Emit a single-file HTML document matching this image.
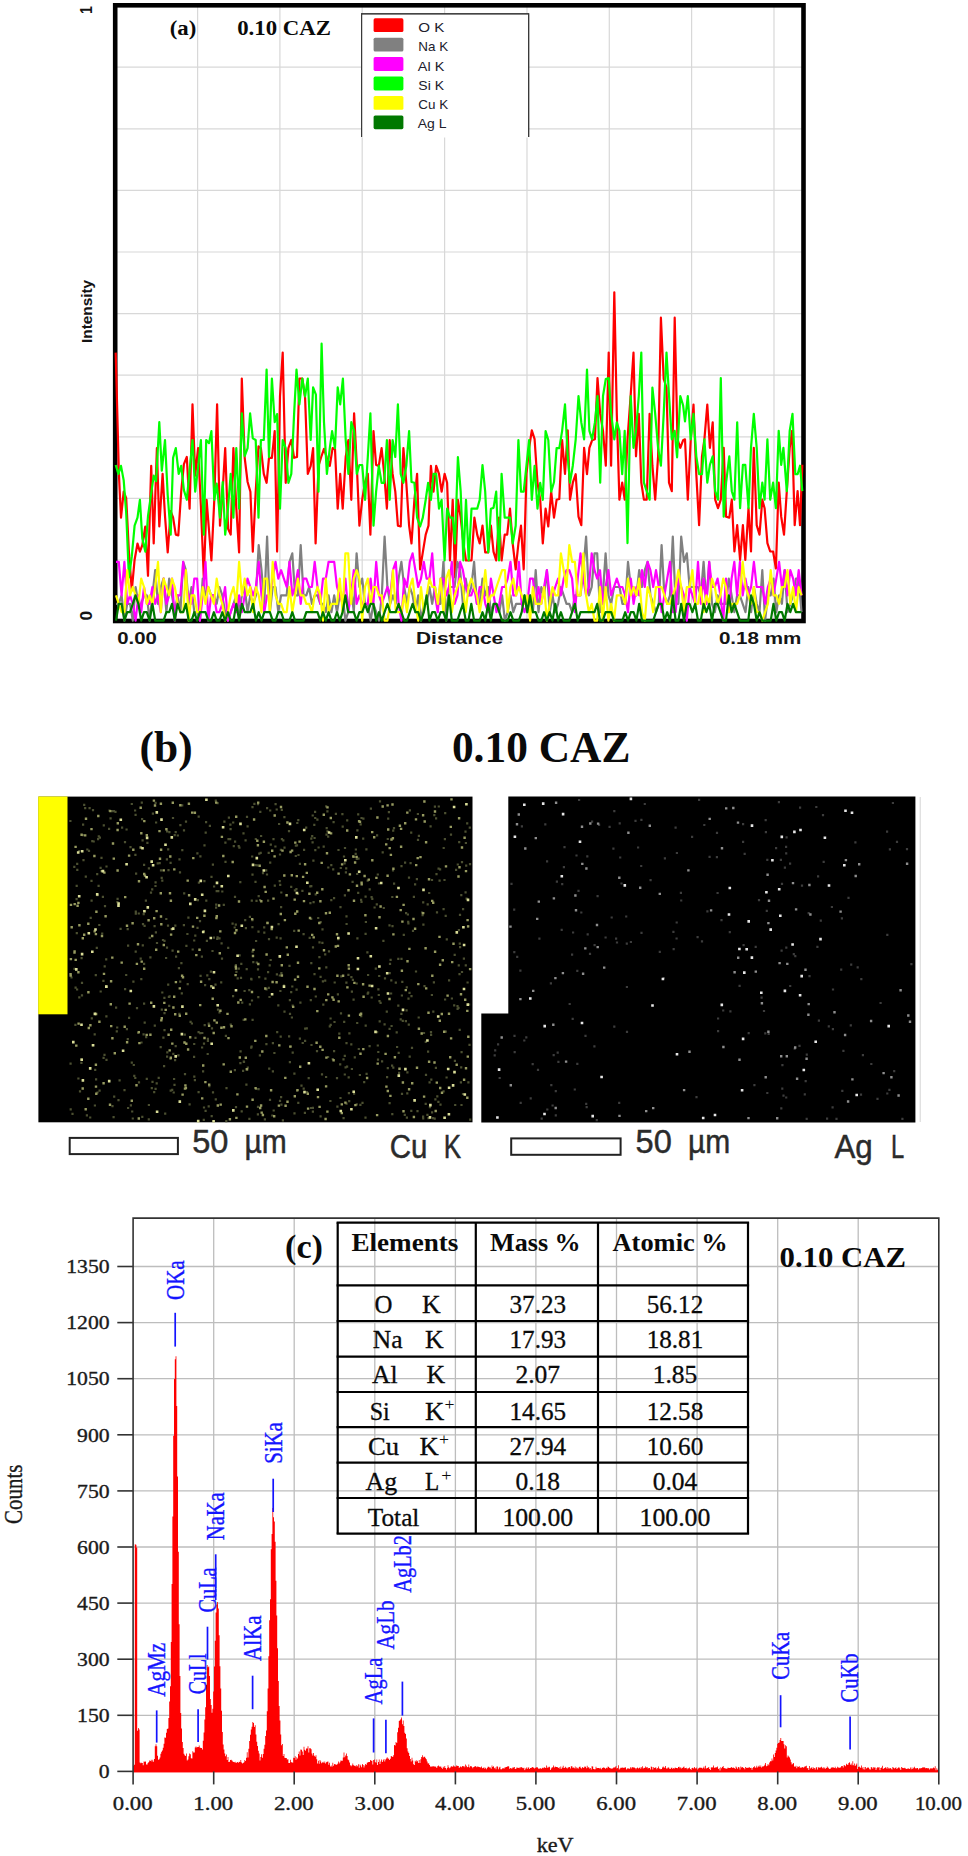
<!DOCTYPE html>
<html lang="en"><head><meta charset="utf-8"><title>0.10 CAZ EDS figure</title>
<style>html,body{margin:0;padding:0;background:#fff}svg{display:block}text{white-space:pre}</style>
</head><body>
<svg width="968" height="1856" viewBox="0 0 968 1856">
<rect width="968" height="1856" fill="#fff"/>
<line x1="197.6" y1="5.3" x2="197.6" y2="621.0" stroke="#d8d8d8" stroke-width="1.2"/>
<line x1="279.9" y1="5.3" x2="279.9" y2="621.0" stroke="#d8d8d8" stroke-width="1.2"/>
<line x1="362.2" y1="5.3" x2="362.2" y2="621.0" stroke="#d8d8d8" stroke-width="1.2"/>
<line x1="444.6" y1="5.3" x2="444.6" y2="621.0" stroke="#d8d8d8" stroke-width="1.2"/>
<line x1="527.0" y1="5.3" x2="527.0" y2="621.0" stroke="#d8d8d8" stroke-width="1.2"/>
<line x1="609.3" y1="5.3" x2="609.3" y2="621.0" stroke="#d8d8d8" stroke-width="1.2"/>
<line x1="691.6" y1="5.3" x2="691.6" y2="621.0" stroke="#d8d8d8" stroke-width="1.2"/>
<line x1="774.0" y1="5.3" x2="774.0" y2="621.0" stroke="#d8d8d8" stroke-width="1.2"/>
<line x1="115.2" y1="67.2" x2="803.5" y2="67.2" stroke="#d8d8d8" stroke-width="1.2"/>
<line x1="115.2" y1="128.8" x2="803.5" y2="128.8" stroke="#d8d8d8" stroke-width="1.2"/>
<line x1="115.2" y1="190.4" x2="803.5" y2="190.4" stroke="#d8d8d8" stroke-width="1.2"/>
<line x1="115.2" y1="252.0" x2="803.5" y2="252.0" stroke="#d8d8d8" stroke-width="1.2"/>
<line x1="115.2" y1="313.6" x2="803.5" y2="313.6" stroke="#d8d8d8" stroke-width="1.2"/>
<line x1="115.2" y1="375.2" x2="803.5" y2="375.2" stroke="#d8d8d8" stroke-width="1.2"/>
<line x1="115.2" y1="436.8" x2="803.5" y2="436.8" stroke="#d8d8d8" stroke-width="1.2"/>
<line x1="115.2" y1="498.4" x2="803.5" y2="498.4" stroke="#d8d8d8" stroke-width="1.2"/>
<line x1="115.2" y1="560.0" x2="803.5" y2="560.0" stroke="#d8d8d8" stroke-width="1.2"/>
<rect x="115.2" y="5.3" width="688.3" height="615.7" fill="none" stroke="#000" stroke-width="4.6"/>
<path d="M115.7,352.6L118.9,473.9L121.0,517.6L123.7,491.7L126.2,498.2L128.9,551.6L131.8,590.4L134.6,559.7L137.5,543.5L139.9,551.6L142.3,545.1L145.3,526.5L148.0,575.8L151.2,465.9L153.7,543.5L156.9,448.1L159.3,526.5L162.6,473.9L165.0,516.0L167.7,552.4L170.7,511.1L173.1,517.6L175.8,534.6L178.3,535.4L181.2,491.7L183.9,464.2L186.8,457.0L189.6,508.7L192.5,404.4L195.2,475.6L198.1,448.1L200.9,506.3L203.8,577.5L206.6,499.8L209.0,530.5L211.4,560.5L214.3,499.8L217.1,404.4L220.0,525.7L222.4,495.0L225.2,448.1L228.1,528.9L230.7,534.6L233.4,448.1L236.3,507.9L239.1,552.4L241.8,378.5L244.7,457.8L247.6,482.0L250.4,491.7L252.8,551.6L255.7,491.7L258.5,446.4L260.9,448.1L263.8,473.9L266.6,482.8L269.0,457.8L271.9,457.8L274.7,431.1L277.1,551.6L280.0,396.3L282.7,352.6L285.7,482.8L288.4,448.1L291.3,440.0L294.1,457.8L297.0,457.0L299.4,378.5L302.3,378.5L305.1,397.9L307.8,473.9L310.7,465.9L313.1,448.1L315.6,543.5L318.5,465.9L321.2,457.0L324.0,448.9L326.9,457.8L329.8,465.9L332.6,448.1L335.0,448.9L337.7,508.7L340.2,473.9L342.7,508.7L345.7,457.0L348.4,440.0L351.3,499.8L354.1,413.3L356.8,465.0L359.4,525.7L362.2,499.8L365.1,482.0L367.8,473.9L370.4,534.6L373.5,431.1L376.1,465.0L378.8,465.9L381.6,448.1L384.2,473.9L386.9,508.7L389.7,440.0L392.6,473.9L395.3,491.7L397.9,525.7L400.7,526.5L403.4,448.1L406.3,482.8L409.1,525.7L411.5,543.5L414.4,499.8L417.1,473.9L420.1,569.4L422.8,552.4L425.7,534.6L428.5,525.7L430.9,465.9L433.5,491.7L436.2,465.9L439.0,473.9L441.6,491.7L444.6,473.9L447.1,482.8L450.0,560.5L452.7,499.8L455.0,577.5L457.9,499.8L460.7,517.6L463.4,543.5L466.0,560.5L468.7,560.5L471.5,560.5L474.4,517.6L477.2,534.6L479.7,543.5L482.5,525.7L485.2,552.4L488.2,552.4L490.9,525.7L493.5,551.6L496.2,560.5L499.0,517.6L501.6,560.5L504.7,534.6L507.2,534.6L510.0,508.7L512.7,543.5L515.7,569.4L518.4,543.5L521.0,525.7L523.7,569.4L526.5,473.9L529.1,448.1L531.8,430.3L534.6,439.2L537.5,482.8L540.2,499.8L542.8,543.5L545.6,508.7L548.3,526.5L551.2,491.7L554.0,517.6L556.6,499.8L559.3,499.0L562.1,440.0L565.0,473.9L567.7,430.3L570.0,499.7L572.8,482.7L575.7,474.2L578.5,516.7L581.3,525.1L584.1,447.8L587.0,474.2L589.4,447.8L592.1,440.3L594.9,439.3L597.5,378.1L600.2,413.9L603.0,430.9L605.8,465.7L608.7,352.6L611.1,465.7L614.3,292.3L616.8,413.9L619.4,499.7L622.2,482.7L624.7,499.7L627.5,439.3L630.7,395.0L633.5,352.6L636.0,456.3L638.8,413.9L641.3,482.7L643.9,499.7L646.7,499.7L649.6,413.9L652.4,465.7L655.2,499.7L658.1,456.3L660.9,317.7L663.7,379.0L666.5,387.5L669.0,482.7L671.8,491.2L674.7,317.7L677.5,439.3L680.3,447.8L683.1,440.3L685.0,439.3L687.8,499.7L690.7,440.3L693.5,404.5L696.3,474.2L699.1,525.1L702.0,456.3L704.4,439.3L707.3,404.5L709.9,447.8L712.7,422.4L715.2,499.7L718.0,508.2L720.8,499.7L723.7,447.8L726.1,516.7L729.3,517.6L731.8,499.7L734.4,551.5L737.2,525.1L740.1,560.0L742.9,525.1L745.3,560.0L748.5,508.2L751.0,551.5L753.8,447.8L756.7,525.1L759.5,534.6L762.3,499.7L764.6,508.2L767.4,543.1L770.2,551.5L773.1,551.5L775.9,568.5L778.7,482.7L781.2,516.7L784.0,534.6L786.8,491.2L789.7,447.8L792.1,430.9L794.7,525.1L797.6,491.2L800.0,525.1L802.3,464.8" fill="none" stroke="#ff0000" stroke-width="2.2" stroke-linejoin="round" stroke-linecap="butt"/>
<path d="M116.0,603.8L118.8,603.8L121.6,595.4L124.4,620.6L127.2,603.8L130.0,603.8L132.8,620.6L135.6,587.0L138.4,603.8L141.2,603.8L144.0,595.4L146.8,595.4L149.6,620.6L152.4,595.4L155.2,570.2L158.0,603.8L160.8,587.0L163.6,578.6L166.4,612.2L169.2,578.6L172.0,595.4L174.8,612.2L177.6,595.4L180.4,612.2L183.2,561.8L185.9,570.2L188.7,603.8L191.5,587.0L194.3,612.2L197.1,612.2L199.9,620.6L202.7,578.6L205.5,595.4L208.3,587.0L211.1,595.4L213.9,595.4L216.7,603.8L219.5,587.0L222.3,595.4L225.1,612.2L227.9,620.6L230.7,612.2L233.5,603.8L236.3,595.4L239.1,612.2L241.9,595.4L244.7,587.0L247.5,612.2L250.3,595.4L253.1,603.8L255.9,595.4L258.7,545.0L261.5,570.2L264.3,603.8L267.1,536.6L269.9,612.2L272.7,587.0L275.5,587.0L278.3,612.2L281.1,595.4L283.9,595.4L286.7,595.4L289.5,561.8L292.3,553.4L295.1,595.4L297.9,595.4L300.7,545.0L303.5,595.4L306.3,595.4L309.1,587.0L311.9,603.8L314.7,595.4L317.5,595.4L320.3,603.8L323.0,603.8L325.8,612.2L328.6,595.4L331.4,612.2L334.2,595.4L337.0,612.2L339.8,595.4L342.6,595.4L345.4,620.6L348.2,612.2L351.0,587.0L353.8,612.2L356.6,553.4L359.4,587.0L362.2,578.6L365.0,603.8L367.8,603.8L370.6,620.6L373.4,603.8L376.2,612.2L379.0,620.6L381.8,595.4L384.6,536.6L387.4,587.0L390.2,603.8L393.0,595.4L395.8,603.8L398.6,578.6L401.4,561.8L404.2,587.0L407.0,603.8L409.8,587.0L412.6,595.4L415.4,612.2L418.2,595.4L421.0,620.6L423.8,603.8L426.6,603.8L429.4,587.0L432.2,603.8L435.0,587.0L437.8,603.8L440.6,603.8L443.4,561.8L446.2,620.6L449.0,587.0L451.8,587.0L454.6,587.0L457.4,561.8L460.1,570.2L462.9,603.8L465.7,578.6L468.5,595.4L471.3,587.0L474.1,561.8L476.9,603.8L479.7,603.8L482.5,578.6L485.3,595.4L488.1,587.0L490.9,612.2L493.7,603.8L496.5,603.8L499.3,612.2L502.1,595.4L504.9,620.6L507.7,612.2L510.5,595.4L513.3,612.2L516.1,603.8L518.9,603.8L521.7,603.8L524.5,595.4L527.3,612.2L530.1,595.4L532.9,612.2L535.7,570.2L538.5,612.2L541.3,587.0L544.1,595.4L546.9,570.2L549.7,612.2L552.5,595.4L555.3,612.2L558.1,603.8L560.9,587.0L563.7,595.4L566.5,603.8L569.3,603.8L572.1,612.2L574.9,595.4L577.7,595.4L580.5,595.4L583.3,570.2L586.1,536.6L588.9,595.4L591.7,587.0L594.5,553.4L597.2,553.4L600.0,612.2L602.8,595.4L605.6,553.4L608.4,595.4L611.2,603.8L614.0,587.0L616.8,587.0L619.6,587.0L622.4,603.8L625.2,603.8L628.0,561.8L630.8,587.0L633.6,587.0L636.4,595.4L639.2,570.2L642.0,587.0L644.8,570.2L647.6,561.8L650.4,595.4L653.2,603.8L656.0,612.2L658.8,603.8L661.6,545.0L664.4,595.4L667.2,603.8L670.0,595.4L672.8,536.6L675.6,603.8L678.4,603.8L681.2,536.6L684.0,561.8L686.8,553.4L689.6,587.0L692.4,587.0L695.2,587.0L698.0,587.0L700.8,595.4L703.6,561.8L706.4,603.8L709.2,561.8L712.0,603.8L714.8,612.2L717.6,595.4L720.4,603.8L723.2,603.8L726.0,603.8L728.8,578.6L731.6,595.4L734.3,612.2L737.1,595.4L739.9,595.4L742.7,603.8L745.5,612.2L748.3,587.0L751.1,612.2L753.9,587.0L756.7,603.8L759.5,612.2L762.3,570.2L765.1,620.6L767.9,595.4L770.7,595.4L773.5,578.6L776.3,612.2L779.1,595.4L781.9,603.8L784.7,570.2L787.5,612.2L790.3,603.8L793.1,595.4L795.9,578.6L798.7,578.6L801.5,612.2" fill="none" stroke="#808080" stroke-width="2.2" stroke-linejoin="round" stroke-linecap="butt"/>
<path d="M116.0,561.8L118.8,561.8L121.6,595.4L124.4,561.8L127.2,603.8L130.0,595.4L132.8,603.8L135.6,620.6L138.4,595.4L141.2,612.2L144.0,587.0L146.8,603.8L149.6,603.8L152.4,587.0L155.2,603.8L158.0,595.4L160.8,612.2L163.6,578.6L166.4,603.8L169.2,595.4L172.0,578.6L174.8,620.6L177.6,595.4L180.4,595.4L183.2,561.8L185.9,587.0L188.7,595.4L191.5,603.8L194.3,578.6L197.1,578.6L199.9,620.6L202.7,595.4L205.5,561.8L208.3,620.6L211.1,595.4L213.9,595.4L216.7,612.2L219.5,612.2L222.3,603.8L225.1,587.0L227.9,620.6L230.7,612.2L233.5,603.8L236.3,612.2L239.1,595.4L241.9,612.2L244.7,595.4L247.5,578.6L250.3,587.0L253.1,595.4L255.9,587.0L258.7,561.8L261.5,595.4L264.3,612.2L267.1,595.4L269.9,595.4L272.7,578.6L275.5,561.8L278.3,578.6L281.1,570.2L283.9,578.6L286.7,587.0L289.5,561.8L292.3,595.4L295.1,587.0L297.9,570.2L300.7,603.8L303.5,578.6L306.3,578.6L309.1,587.0L311.9,587.0L314.7,561.8L317.5,587.0L320.3,603.8L323.0,578.6L325.8,578.6L328.6,561.8L331.4,561.8L334.2,561.8L337.0,587.0L339.8,595.4L342.6,603.8L345.4,578.6L348.2,612.2L351.0,595.4L353.8,570.2L356.6,603.8L359.4,595.4L362.2,603.8L365.0,603.8L367.8,603.8L370.6,578.6L373.4,603.8L376.2,561.8L379.0,595.4L381.8,603.8L384.6,595.4L387.4,587.0L390.2,595.4L393.0,570.2L395.8,561.8L398.6,603.8L401.4,620.6L404.2,578.6L407.0,587.0L409.8,561.8L412.6,553.4L415.4,570.2L418.2,587.0L421.0,578.6L423.8,561.8L426.6,578.6L429.4,578.6L432.2,553.4L435.0,595.4L437.8,612.2L440.6,578.6L443.4,578.6L446.2,595.4L449.0,587.0L451.8,561.8L454.6,603.8L457.4,595.4L460.1,561.8L462.9,570.2L465.7,587.0L468.5,595.4L471.3,595.4L474.1,587.0L476.9,603.8L479.7,587.0L482.5,587.0L485.3,603.8L488.1,612.2L490.9,578.6L493.7,595.4L496.5,612.2L499.3,603.8L502.1,587.0L504.9,587.0L507.7,578.6L510.5,561.8L513.3,595.4L516.1,595.4L518.9,561.8L521.7,603.8L524.5,612.2L527.3,603.8L530.1,578.6L532.9,578.6L535.7,603.8L538.5,587.0L541.3,603.8L544.1,587.0L546.9,570.2L549.7,595.4L552.5,595.4L555.3,587.0L558.1,578.6L560.9,595.4L563.7,578.6L566.5,570.2L569.3,570.2L572.1,578.6L574.9,612.2L577.7,578.6L580.5,553.4L583.3,578.6L586.1,595.4L588.9,587.0L591.7,553.4L594.5,570.2L597.2,578.6L600.0,570.2L602.8,603.8L605.6,587.0L608.4,570.2L611.2,595.4L614.0,587.0L616.8,578.6L619.6,587.0L622.4,587.0L625.2,595.4L628.0,612.2L630.8,578.6L633.6,603.8L636.4,587.0L639.2,595.4L642.0,570.2L644.8,587.0L647.6,561.8L650.4,570.2L653.2,587.0L656.0,570.2L658.8,587.0L661.6,612.2L664.4,595.4L667.2,578.6L670.0,561.8L672.8,612.2L675.6,612.2L678.4,578.6L681.2,587.0L684.0,595.4L686.8,620.6L689.6,587.0L692.4,595.4L695.2,603.8L698.0,561.8L700.8,603.8L703.6,578.6L706.4,603.8L709.2,561.8L712.0,587.0L714.8,587.0L717.6,578.6L720.4,595.4L723.2,620.6L726.0,578.6L728.8,612.2L731.6,578.6L734.3,561.8L737.1,595.4L739.9,561.8L742.7,595.4L745.5,578.6L748.3,595.4L751.1,587.0L753.9,561.8L756.7,587.0L759.5,587.0L762.3,587.0L765.1,603.8L767.9,587.0L770.7,578.6L773.5,595.4L776.3,578.6L779.1,561.8L781.9,587.0L784.7,570.2L787.5,595.4L790.3,570.2L793.1,578.6L795.9,595.4L798.7,570.2L801.5,595.4" fill="none" stroke="#ff00ff" stroke-width="2.2" stroke-linejoin="round" stroke-linecap="butt"/>
<path d="M115.7,465.0L118.4,473.9L121.0,465.9L123.7,480.4L126.2,512.8L128.9,577.5L131.8,556.4L134.6,525.7L137.5,517.6L139.9,499.8L142.3,538.6L145.3,551.6L148.0,516.0L151.2,493.4L153.7,475.6L156.1,481.2L159.3,422.2L161.8,470.7L165.0,440.0L167.7,495.0L170.7,534.6L173.1,457.8L175.8,448.1L178.7,473.9L181.2,465.9L183.9,490.1L186.8,499.8L189.6,470.7L192.5,440.0L195.2,491.7L198.1,467.5L200.9,440.0L203.8,534.6L206.2,440.0L209.0,443.2L211.4,431.1L214.3,499.8L216.7,483.6L220.0,517.6L222.7,482.0L225.2,534.6L227.9,509.5L230.7,473.9L233.4,517.6L236.3,448.1L239.1,508.7L241.8,413.3L244.7,456.2L247.6,448.1L250.1,413.3L252.8,438.4L255.7,440.0L258.5,517.6L260.9,440.0L263.8,440.0L266.6,369.6L269.0,457.0L271.9,378.5L274.7,422.2L277.1,414.1L280.0,508.7L282.7,440.0L285.7,448.1L288.4,482.8L291.3,473.9L294.1,414.1L296.5,369.6L299.4,404.4L302.3,378.5L305.1,396.3L307.8,378.5L310.7,440.0L313.1,387.4L315.9,394.7L318.5,491.7L321.6,343.7L324.0,422.2L326.9,473.9L329.8,448.1L332.1,431.1L335.0,448.1L337.7,387.4L340.2,404.4L342.9,378.5L345.7,440.0L348.4,473.9L351.3,422.2L354.1,431.1L356.8,473.9L359.4,465.0L362.2,465.0L365.1,499.8L367.8,457.0L370.4,413.3L373.5,525.7L376.1,491.7L378.8,465.9L381.6,482.8L384.2,482.8L386.9,440.0L389.7,499.8L392.6,440.0L395.3,457.0L397.9,404.4L400.7,473.9L403.4,482.8L406.3,465.9L409.1,431.1L411.5,482.0L414.4,482.8L417.1,517.6L420.1,526.5L422.8,517.6L425.7,499.8L428.1,482.8L430.9,499.8L433.5,473.9L436.2,473.9L439.0,508.7L441.6,499.8L444.6,560.5L447.1,508.7L450.0,517.6L452.7,517.6L455.0,543.5L457.9,457.0L460.7,491.7L463.4,560.5L466.0,499.8L468.7,560.5L471.5,508.7L474.4,508.7L477.2,508.7L479.7,499.8L482.5,465.0L485.2,491.7L488.2,552.4L490.9,508.7L493.5,507.9L496.2,491.7L499.0,560.5L501.6,473.9L504.7,517.6L507.2,517.6L510.0,517.6L512.7,543.5L515.7,525.7L518.4,440.0L521.0,491.7L523.7,491.7L526.5,465.0L529.1,440.0L531.8,499.8L534.6,465.9L537.5,508.7L540.2,482.8L542.8,499.8L545.6,431.1L548.3,440.0L551.2,491.7L554.0,482.0L556.6,448.1L559.3,448.1L562.1,431.1L565.0,404.4L567.7,456.2L570.0,482.7L572.8,465.7L575.7,439.3L578.5,396.0L581.3,422.4L584.1,439.3L587.0,369.6L589.4,430.9L592.1,439.3L594.9,422.4L597.5,396.0L600.2,482.7L603.0,396.0L605.8,379.0L608.7,378.1L611.1,412.9L614.3,439.3L616.8,422.4L619.4,430.9L622.2,474.2L624.7,430.9L627.5,543.1L630.7,396.0L633.5,447.8L636.0,430.9L638.8,396.0L641.3,352.6L643.9,482.7L646.7,491.2L649.6,499.7L652.4,387.5L655.2,413.9L658.1,447.8L660.9,465.7L663.7,413.9L666.5,352.6L669.0,395.0L671.8,439.3L674.7,430.9L677.1,457.3L680.3,396.0L683.1,405.4L685.0,421.4L687.8,396.0L690.7,439.3L693.5,413.9L696.3,456.3L699.1,474.2L702.0,474.2L704.4,439.3L707.3,482.7L709.9,464.8L712.7,456.3L715.2,491.2L718.0,499.7L720.8,378.1L723.7,516.7L726.1,482.7L729.3,456.3L731.8,491.2L734.4,499.7L737.2,422.4L740.1,508.2L742.9,464.8L745.3,464.8L748.5,508.2L751.0,447.8L753.8,413.9L756.7,447.8L759.5,508.2L762.3,482.7L764.6,499.7L767.4,439.3L770.2,499.7L773.1,482.7L775.9,508.2L778.7,430.9L781.2,464.8L783.4,447.8L786.8,491.2L789.7,430.9L792.5,413.9L795.3,474.2L797.6,474.2L800.0,465.7L802.3,491.2" fill="none" stroke="#00ff00" stroke-width="2.2" stroke-linejoin="round" stroke-linecap="butt"/>
<path d="M116.0,595.4L118.8,603.8L121.6,612.2L124.4,612.2L127.2,570.2L130.0,595.4L132.8,587.0L135.6,595.4L138.4,603.8L141.2,578.6L144.0,587.0L146.8,603.8L149.6,595.4L152.4,603.8L155.2,587.0L158.0,561.8L160.8,612.2L163.6,578.6L166.4,587.0L169.2,595.4L172.0,578.6L174.8,587.0L177.6,603.8L180.4,612.2L183.2,612.2L185.9,570.2L188.7,620.6L191.5,595.4L194.3,595.4L197.1,612.2L199.9,612.2L202.7,587.0L205.5,603.8L208.3,587.0L211.1,595.4L213.9,603.8L216.7,578.6L219.5,595.4L222.3,603.8L225.1,620.6L227.9,612.2L230.7,595.4L233.5,587.0L236.3,603.8L239.1,561.8L241.9,595.4L244.7,578.6L247.5,595.4L250.3,587.0L253.1,612.2L255.9,587.0L258.7,595.4L261.5,612.2L264.3,578.6L267.1,578.6L269.9,612.2L272.7,561.8L275.5,595.4L278.3,603.8L281.1,603.8L283.9,612.2L286.7,612.2L289.5,587.0L292.3,612.2L295.1,595.4L297.9,578.6L300.7,595.4L303.5,595.4L306.3,603.8L309.1,603.8L311.9,612.2L314.7,595.4L317.5,587.0L320.3,595.4L323.0,620.6L325.8,578.6L328.6,612.2L331.4,603.8L334.2,603.8L337.0,603.8L339.8,578.6L342.6,612.2L345.4,553.4L348.2,553.4L351.0,603.8L353.8,578.6L356.6,570.2L359.4,578.6L362.2,620.6L365.0,587.0L367.8,578.6L370.6,603.8L373.4,587.0L376.2,587.0L379.0,595.4L381.8,595.4L384.6,620.6L387.4,620.6L390.2,603.8L393.0,570.2L395.8,612.2L398.6,612.2L401.4,612.2L404.2,595.4L407.0,612.2L409.8,587.0L412.6,578.6L415.4,603.8L418.2,620.6L421.0,587.0L423.8,612.2L426.6,595.4L429.4,578.6L432.2,587.0L435.0,587.0L437.8,603.8L440.6,578.6L443.4,612.2L446.2,578.6L449.0,570.2L451.8,612.2L454.6,595.4L457.4,587.0L460.1,578.6L462.9,587.0L465.7,612.2L468.5,587.0L471.3,578.6L474.1,587.0L476.9,595.4L479.7,612.2L482.5,595.4L485.3,570.2L488.1,603.8L490.9,595.4L493.7,595.4L496.5,587.0L499.3,578.6L502.1,570.2L504.9,570.2L507.7,612.2L510.5,587.0L513.3,578.6L516.1,595.4L518.9,587.0L521.7,595.4L524.5,603.8L527.3,595.4L530.1,620.6L532.9,587.0L535.7,603.8L538.5,603.8L541.3,603.8L544.1,587.0L546.9,620.6L549.7,603.8L552.5,587.0L555.3,595.4L558.1,595.4L560.9,553.4L563.7,570.2L566.5,587.0L569.3,545.0L572.1,561.8L574.9,561.8L577.7,595.4L580.5,595.4L583.3,553.4L586.1,595.4L588.9,612.2L591.7,603.8L594.5,620.6L597.2,620.6L600.0,587.0L602.8,620.6L605.6,587.0L608.4,620.6L611.2,603.8L614.0,620.6L616.8,595.4L619.6,595.4L622.4,595.4L625.2,603.8L628.0,578.6L630.8,595.4L633.6,587.0L636.4,595.4L639.2,578.6L642.0,612.2L644.8,620.6L647.6,587.0L650.4,595.4L653.2,612.2L656.0,587.0L658.8,587.0L661.6,587.0L664.4,595.4L667.2,603.8L670.0,603.8L672.8,595.4L675.6,587.0L678.4,570.2L681.2,587.0L684.0,612.2L686.8,587.0L689.6,587.0L692.4,570.2L695.2,603.8L698.0,603.8L700.8,587.0L703.6,612.2L706.4,595.4L709.2,603.8L712.0,578.6L714.8,587.0L717.6,603.8L720.4,595.4L723.2,578.6L726.0,587.0L728.8,612.2L731.6,603.8L734.3,603.8L737.1,603.8L739.9,595.4L742.7,561.8L745.5,587.0L748.3,595.4L751.1,603.8L753.9,587.0L756.7,612.2L759.5,612.2L762.3,620.6L765.1,612.2L767.9,603.8L770.7,570.2L773.5,595.4L776.3,595.4L779.1,603.8L781.9,587.0L784.7,587.0L787.5,570.2L790.3,603.8L793.1,587.0L795.9,612.2L798.7,587.0L801.5,595.4" fill="none" stroke="#ffff00" stroke-width="2.2" stroke-linejoin="round" stroke-linecap="butt"/>
<path d="M116.0,620.6L118.8,603.8L121.6,603.8L124.4,620.6L127.2,612.2L130.0,612.2L132.8,603.8L135.6,595.4L138.4,603.8L141.2,620.6L144.0,612.2L146.8,612.2L149.6,620.6L152.4,603.8L155.2,620.6L158.0,620.6L160.8,620.6L163.6,620.6L166.4,612.2L169.2,612.2L172.0,603.8L174.8,620.6L177.6,603.8L180.4,612.2L183.2,612.2L185.9,603.8L188.7,620.6L191.5,620.6L194.3,612.2L197.1,620.6L199.9,612.2L202.7,612.2L205.5,612.2L208.3,620.6L211.1,620.6L213.9,612.2L216.7,620.6L219.5,620.6L222.3,612.2L225.1,620.6L227.9,612.2L230.7,620.6L233.5,620.6L236.3,603.8L239.1,620.6L241.9,603.8L244.7,612.2L247.5,612.2L250.3,612.2L253.1,603.8L255.9,620.6L258.7,612.2L261.5,620.6L264.3,612.2L267.1,612.2L269.9,612.2L272.7,620.6L275.5,620.6L278.3,612.2L281.1,612.2L283.9,620.6L286.7,620.6L289.5,620.6L292.3,612.2L295.1,620.6L297.9,620.6L300.7,620.6L303.5,620.6L306.3,612.2L309.1,612.2L311.9,612.2L314.7,612.2L317.5,612.2L320.3,620.6L323.0,612.2L325.8,620.6L328.6,612.2L331.4,620.6L334.2,620.6L337.0,612.2L339.8,620.6L342.6,612.2L345.4,595.4L348.2,612.2L351.0,612.2L353.8,612.2L356.6,620.6L359.4,612.2L362.2,612.2L365.0,603.8L367.8,612.2L370.6,603.8L373.4,603.8L376.2,620.6L379.0,612.2L381.8,620.6L384.6,612.2L387.4,603.8L390.2,612.2L393.0,612.2L395.8,612.2L398.6,603.8L401.4,612.2L404.2,620.6L407.0,620.6L409.8,612.2L412.6,603.8L415.4,612.2L418.2,612.2L421.0,620.6L423.8,612.2L426.6,595.4L429.4,620.6L432.2,612.2L435.0,612.2L437.8,620.6L440.6,612.2L443.4,612.2L446.2,620.6L449.0,595.4L451.8,620.6L454.6,620.6L457.4,620.6L460.1,612.2L462.9,603.8L465.7,620.6L468.5,620.6L471.3,603.8L474.1,620.6L476.9,620.6L479.7,620.6L482.5,612.2L485.3,620.6L488.1,603.8L490.9,620.6L493.7,603.8L496.5,603.8L499.3,612.2L502.1,620.6L504.9,620.6L507.7,620.6L510.5,612.2L513.3,620.6L516.1,620.6L518.9,620.6L521.7,612.2L524.5,595.4L527.3,612.2L530.1,595.4L532.9,612.2L535.7,612.2L538.5,620.6L541.3,620.6L544.1,612.2L546.9,620.6L549.7,612.2L552.5,620.6L555.3,603.8L558.1,620.6L560.9,612.2L563.7,620.6L566.5,620.6L569.3,620.6L572.1,612.2L574.9,603.8L577.7,620.6L580.5,612.2L583.3,612.2L586.1,612.2L588.9,612.2L591.7,612.2L594.5,612.2L597.2,603.8L600.0,620.6L602.8,620.6L605.6,612.2L608.4,612.2L611.2,612.2L614.0,620.6L616.8,620.6L619.6,620.6L622.4,620.6L625.2,612.2L628.0,620.6L630.8,612.2L633.6,612.2L636.4,620.6L639.2,603.8L642.0,620.6L644.8,620.6L647.6,620.6L650.4,620.6L653.2,620.6L656.0,612.2L658.8,603.8L661.6,603.8L664.4,620.6L667.2,612.2L670.0,620.6L672.8,595.4L675.6,620.6L678.4,620.6L681.2,603.8L684.0,620.6L686.8,603.8L689.6,603.8L692.4,612.2L695.2,603.8L698.0,620.6L700.8,620.6L703.6,603.8L706.4,612.2L709.2,603.8L712.0,620.6L714.8,603.8L717.6,603.8L720.4,612.2L723.2,620.6L726.0,620.6L728.8,595.4L731.6,612.2L734.3,603.8L737.1,612.2L739.9,620.6L742.7,620.6L745.5,620.6L748.3,620.6L751.1,595.4L753.9,603.8L756.7,620.6L759.5,612.2L762.3,620.6L765.1,620.6L767.9,620.6L770.7,620.6L773.5,603.8L776.3,620.6L779.1,612.2L781.9,612.2L784.7,620.6L787.5,603.8L790.3,612.2L793.1,603.8L795.9,612.2L798.7,612.2L801.5,612.2" fill="none" stroke="#007800" stroke-width="2.2" stroke-linejoin="round" stroke-linecap="butt"/>
<path d="M361.6,137V13.9H528.6V137" fill="#fff" stroke="#3a3a3a" stroke-width="1.2"/>
<rect x="362.2" y="14.5" width="165.8" height="123" fill="#fff"/>
<path d="M361.6,137V13.9H528.6V137" fill="none" stroke="#3a3a3a" stroke-width="1.2"/>
<rect x="373.6" y="18.3" width="29.8" height="13.8" rx="1.6" fill="#ff0000"/>
<text transform="translate(418.30,31.70) scale(1.1506,1.0000)" font-family='"Liberation Sans", sans-serif' font-size="13.2" font-weight="normal" fill="#20202c" >O K</text>
<rect x="373.6" y="37.7" width="29.8" height="13.8" rx="1.6" fill="#808080"/>
<text transform="translate(418.30,51.30) scale(1.0180,1.0000)" font-family='"Liberation Sans", sans-serif' font-size="13.2" font-weight="normal" fill="#20202c" >Na K</text>
<rect x="373.6" y="57.1" width="29.8" height="13.8" rx="1.6" fill="#ff00ff"/>
<text transform="translate(417.80,70.50) scale(1.0940,1.0000)" font-family='"Liberation Sans", sans-serif' font-size="13.2" font-weight="normal" fill="#20202c" >Al K</text>
<rect x="373.6" y="76.6" width="29.8" height="13.8" rx="1.6" fill="#00ff00"/>
<text transform="translate(418.30,89.60) scale(1.0610,1.0000)" font-family='"Liberation Sans", sans-serif' font-size="13.2" font-weight="normal" fill="#20202c" >Si K</text>
<rect x="373.6" y="96.0" width="29.8" height="13.8" rx="1.6" fill="#ffff00"/>
<text transform="translate(418.30,108.80) scale(1.0180,1.0000)" font-family='"Liberation Sans", sans-serif' font-size="13.2" font-weight="normal" fill="#20202c" >Cu K</text>
<rect x="373.6" y="115.4" width="29.8" height="13.8" rx="1.6" fill="#007800"/>
<text transform="translate(417.80,128.20) scale(1.0580,1.0000)" font-family='"Liberation Sans", sans-serif' font-size="13.2" font-weight="normal" fill="#20202c" >Ag L</text>
<text transform="translate(169.70,35.10) scale(1.0378,1.0000)" font-family='"Liberation Serif", serif' font-size="22" font-weight="bold" fill="#0a0a0a" >(a)</text>
<text transform="translate(237.20,35.10) scale(1.0385,1.0000)" font-family='"Liberation Serif", serif' font-size="22" font-weight="bold" fill="#0a0a0a" >0.10 CAZ</text>
<text transform="translate(117.20,644.20) scale(1.2415,1.0000)" font-family='"Liberation Sans", sans-serif' font-size="16.4" font-weight="bold" fill="#141414" >0.00</text>
<text transform="translate(416.00,644.20) scale(1.2765,1.0000)" font-family='"Liberation Sans", sans-serif' font-size="16.4" font-weight="bold" fill="#141414" >Distance</text>
<text transform="translate(718.90,644.20) scale(1.2561,1.0000)" font-family='"Liberation Sans", sans-serif' font-size="16.4" font-weight="bold" fill="#141414" >0.18 mm</text>
<text transform="translate(91.80,343.00) rotate(-90) scale(1.0251,1.0000)" font-family='"Liberation Sans", sans-serif' font-size="15" font-weight="bold" fill="#141414">Intensity</text>
<text transform="translate(92.30,620.50) rotate(-90) scale(1.1380,1.0500)" font-family='"Liberation Sans", sans-serif' font-size="15.2" font-weight="bold" fill="#141414">0</text>
<text transform="translate(91.80,13.90) rotate(-90) scale(0.9246,1.0500)" font-family='"Liberation Sans", sans-serif' font-size="15.2" font-weight="bold" fill="#141414">1</text>
<text transform="translate(139.50,762.40) scale(0.9987,1.0000)" font-family='"Liberation Serif", serif' font-size="43.5" font-weight="bold" fill="#0a0a0a" >(b)</text>
<text transform="translate(451.90,762.40) scale(0.9984,1.0000)" font-family='"Liberation Serif", serif' font-size="43.5" font-weight="bold" fill="#0a0a0a" >0.10 CAZ</text>
<rect x="38.4" y="796.6" width="434.1" height="325.7" fill="#000"/>
<rect x="38.2" y="796.5" width="29.3" height="217.8" fill="#ffff00"/>
<path d="M508.3,796.6H915.4V1122.4H481.3V1013.6H508.3Z" fill="#000"/>
<line x1="920.2" y1="797" x2="920.2" y2="1122" stroke="#d4d4d4" stroke-width="1"/>
<defs><filter id="sb" x="-5%" y="-5%" width="110%" height="110%"><feGaussianBlur stdDeviation="0.45"/></filter></defs>
<g filter="url(#sb)">
<path d="M250.4,978.2h2.2v2.2h-2.2zM255.7,961.5h2.2v2.2h-2.2zM143.0,962.8h2.2v2.2h-2.2zM105.4,1058.7h2.2v2.2h-2.2zM85.8,1114.3h2.2v2.2h-2.2zM255.0,939.9h2.2v2.2h-2.2zM277.2,1004.2h2.2v2.2h-2.2zM469.1,1118.6h2.2v2.2h-2.2zM184.9,820.6h2.2v2.2h-2.2zM153.1,1091.1h2.2v2.2h-2.2zM103.9,905.1h2.2v2.2h-2.2zM109.5,817.3h2.2v2.2h-2.2zM140.2,978.1h2.2v2.2h-2.2zM327.1,835.5h2.2v2.2h-2.2zM154.4,884.9h2.2v2.2h-2.2zM391.2,895.9h2.2v2.2h-2.2zM153.5,925.0h2.2v2.2h-2.2zM326.4,830.3h2.2v2.2h-2.2zM154.5,881.2h2.2v2.2h-2.2zM310.1,917.7h2.2v2.2h-2.2zM453.6,953.8h2.2v2.2h-2.2zM145.1,1036.1h2.2v2.2h-2.2zM147.8,1103.9h2.2v2.2h-2.2zM351.5,880.7h2.2v2.2h-2.2zM293.3,1072.5h2.2v2.2h-2.2zM75.6,884.7h2.2v2.2h-2.2zM426.3,1113.7h2.2v2.2h-2.2zM83.1,803.8h2.2v2.2h-2.2zM324.1,953.3h2.2v2.2h-2.2zM288.0,1035.3h2.2v2.2h-2.2zM364.6,1024.6h2.2v2.2h-2.2zM435.9,911.3h2.2v2.2h-2.2zM430.2,1078.5h2.2v2.2h-2.2zM386.0,1076.0h2.2v2.2h-2.2zM319.6,921.1h2.2v2.2h-2.2zM313.2,823.8h2.2v2.2h-2.2zM467.3,1081.3h2.2v2.2h-2.2zM224.8,1034.7h2.2v2.2h-2.2zM369.8,807.6h2.2v2.2h-2.2zM261.9,872.1h2.2v2.2h-2.2zM268.4,995.9h2.2v2.2h-2.2zM432.2,1010.5h2.2v2.2h-2.2zM426.6,903.3h2.2v2.2h-2.2zM148.6,936.7h2.2v2.2h-2.2zM268.1,1067.5h2.2v2.2h-2.2zM154.8,931.3h2.2v2.2h-2.2zM267.0,899.5h2.2v2.2h-2.2zM251.4,806.0h2.2v2.2h-2.2zM321.3,941.8h2.2v2.2h-2.2zM331.7,1058.0h2.2v2.2h-2.2zM343.5,862.2h2.2v2.2h-2.2zM140.7,801.5h2.2v2.2h-2.2zM207.6,1022.5h2.2v2.2h-2.2zM250.9,999.4h2.2v2.2h-2.2zM220.1,981.2h2.2v2.2h-2.2zM388.5,1102.1h2.2v2.2h-2.2zM330.2,864.0h2.2v2.2h-2.2zM397.2,1004.6h2.2v2.2h-2.2zM154.5,1087.8h2.2v2.2h-2.2zM460.9,970.9h2.2v2.2h-2.2zM197.5,1091.0h2.2v2.2h-2.2zM208.8,824.7h2.2v2.2h-2.2zM289.7,1045.4h2.2v2.2h-2.2zM276.1,1031.0h2.2v2.2h-2.2zM345.4,1102.5h2.2v2.2h-2.2zM280.2,891.4h2.2v2.2h-2.2zM325.2,966.3h2.2v2.2h-2.2zM410.2,1109.8h2.2v2.2h-2.2zM298.8,862.7h2.2v2.2h-2.2zM457.7,964.2h2.2v2.2h-2.2zM390.2,979.2h2.2v2.2h-2.2zM346.1,819.2h2.2v2.2h-2.2zM234.9,1106.1h2.2v2.2h-2.2zM242.9,1060.7h2.2v2.2h-2.2zM362.1,837.5h2.2v2.2h-2.2zM169.5,861.7h2.2v2.2h-2.2zM244.1,919.0h2.2v2.2h-2.2zM322.2,1003.6h2.2v2.2h-2.2zM410.4,995.0h2.2v2.2h-2.2zM162.3,1036.5h2.2v2.2h-2.2zM439.0,868.2h2.2v2.2h-2.2zM402.7,933.8h2.2v2.2h-2.2zM119.5,927.7h2.2v2.2h-2.2zM76.1,862.7h2.2v2.2h-2.2zM271.8,1042.1h2.2v2.2h-2.2zM111.6,810.1h2.2v2.2h-2.2zM143.0,863.7h2.2v2.2h-2.2zM93.8,1104.4h2.2v2.2h-2.2zM375.7,903.2h2.2v2.2h-2.2zM275.6,936.5h2.2v2.2h-2.2zM74.3,1023.7h2.2v2.2h-2.2zM141.7,944.2h2.2v2.2h-2.2zM274.5,803.0h2.2v2.2h-2.2zM390.5,1024.9h2.2v2.2h-2.2zM321.4,928.3h2.2v2.2h-2.2zM271.2,1114.4h2.2v2.2h-2.2zM172.6,1091.4h2.2v2.2h-2.2zM381.0,1060.3h2.2v2.2h-2.2zM428.5,1081.3h2.2v2.2h-2.2zM376.7,1044.4h2.2v2.2h-2.2zM333.6,981.4h2.2v2.2h-2.2zM225.2,1120.0h2.2v2.2h-2.2zM350.2,1043.3h2.2v2.2h-2.2zM78.2,996.2h2.2v2.2h-2.2zM169.6,1089.6h2.2v2.2h-2.2zM272.6,1109.4h2.2v2.2h-2.2zM468.0,1003.4h2.2v2.2h-2.2zM99.6,990.4h2.2v2.2h-2.2zM258.2,852.5h2.2v2.2h-2.2zM314.1,816.9h2.2v2.2h-2.2zM237.7,967.6h2.2v2.2h-2.2zM215.6,890.0h2.2v2.2h-2.2zM293.8,889.3h2.2v2.2h-2.2zM86.2,848.4h2.2v2.2h-2.2zM225.4,1087.0h2.2v2.2h-2.2zM89.1,1116.4h2.2v2.2h-2.2zM98.5,1089.6h2.2v2.2h-2.2zM278.9,1099.8h2.2v2.2h-2.2zM256.8,1113.2h2.2v2.2h-2.2zM311.1,835.1h2.2v2.2h-2.2zM280.8,838.0h2.2v2.2h-2.2zM302.5,933.1h2.2v2.2h-2.2zM281.8,1119.2h2.2v2.2h-2.2zM427.0,1050.5h2.2v2.2h-2.2zM213.0,885.4h2.2v2.2h-2.2zM295.5,988.5h2.2v2.2h-2.2zM461.9,1092.9h2.2v2.2h-2.2zM340.2,975.3h2.2v2.2h-2.2zM206.8,1037.8h2.2v2.2h-2.2zM98.8,836.6h2.2v2.2h-2.2zM239.2,881.1h2.2v2.2h-2.2zM216.9,1008.5h2.2v2.2h-2.2zM199.5,974.7h2.2v2.2h-2.2zM102.3,979.7h2.2v2.2h-2.2zM343.8,894.2h2.2v2.2h-2.2zM99.5,866.7h2.2v2.2h-2.2zM101.8,895.8h2.2v2.2h-2.2zM116.1,1026.4h2.2v2.2h-2.2zM437.3,1100.7h2.2v2.2h-2.2zM196.4,926.7h2.2v2.2h-2.2zM224.4,860.8h2.2v2.2h-2.2zM388.6,972.1h2.2v2.2h-2.2zM294.7,854.9h2.2v2.2h-2.2zM275.8,973.2h2.2v2.2h-2.2zM456.5,1007.7h2.2v2.2h-2.2zM94.7,974.1h2.2v2.2h-2.2zM102.7,824.3h2.2v2.2h-2.2zM429.5,825.3h2.2v2.2h-2.2zM126.7,1038.1h2.2v2.2h-2.2zM167.4,869.0h2.2v2.2h-2.2zM204.5,1109.8h2.2v2.2h-2.2zM267.0,971.0h2.2v2.2h-2.2zM353.0,1092.6h2.2v2.2h-2.2zM400.3,1012.7h2.2v2.2h-2.2zM392.2,1066.5h2.2v2.2h-2.2zM453.1,1004.2h2.2v2.2h-2.2zM353.7,1056.3h2.2v2.2h-2.2zM237.6,845.1h2.2v2.2h-2.2zM115.0,1006.6h2.2v2.2h-2.2zM141.0,818.1h2.2v2.2h-2.2zM163.4,1029.0h2.2v2.2h-2.2zM288.8,1061.1h2.2v2.2h-2.2zM173.4,1083.7h2.2v2.2h-2.2zM206.2,974.2h2.2v2.2h-2.2zM388.5,1027.7h2.2v2.2h-2.2zM173.0,1077.9h2.2v2.2h-2.2zM283.4,846.5h2.2v2.2h-2.2zM69.5,1062.5h2.2v2.2h-2.2zM356.3,829.3h2.2v2.2h-2.2zM256.9,1105.7h2.2v2.2h-2.2zM412.8,895.8h2.2v2.2h-2.2zM400.4,865.1h2.2v2.2h-2.2zM279.8,848.7h2.2v2.2h-2.2zM191.6,948.4h2.2v2.2h-2.2zM227.1,946.7h2.2v2.2h-2.2zM448.0,979.2h2.2v2.2h-2.2zM125.5,828.4h2.2v2.2h-2.2zM353.0,855.9h2.2v2.2h-2.2zM232.1,821.4h2.2v2.2h-2.2zM240.2,962.7h2.2v2.2h-2.2zM229.7,1023.4h2.2v2.2h-2.2zM385.7,1010.6h2.2v2.2h-2.2zM273.3,1051.9h2.2v2.2h-2.2zM314.2,849.0h2.2v2.2h-2.2zM269.7,843.6h2.2v2.2h-2.2zM464.7,964.2h2.2v2.2h-2.2zM404.0,861.5h2.2v2.2h-2.2zM167.1,983.6h2.2v2.2h-2.2zM254.7,837.9h2.2v2.2h-2.2zM123.4,1089.1h2.2v2.2h-2.2zM433.6,1117.5h2.2v2.2h-2.2zM310.2,837.5h2.2v2.2h-2.2zM141.2,1115.8h2.2v2.2h-2.2zM333.0,897.1h2.2v2.2h-2.2zM364.8,920.9h2.2v2.2h-2.2zM297.4,853.9h2.2v2.2h-2.2zM326.3,810.2h2.2v2.2h-2.2zM127.0,1106.9h2.2v2.2h-2.2zM257.4,930.5h2.2v2.2h-2.2zM345.4,1042.1h2.2v2.2h-2.2zM263.8,1118.3h2.2v2.2h-2.2zM411.9,929.7h2.2v2.2h-2.2zM296.0,1089.5h2.2v2.2h-2.2zM279.5,937.2h2.2v2.2h-2.2zM197.6,815.6h2.2v2.2h-2.2zM430.0,1033.7h2.2v2.2h-2.2zM370.5,896.1h2.2v2.2h-2.2zM97.0,838.1h2.2v2.2h-2.2zM96.4,1091.4h2.2v2.2h-2.2zM335.9,1077.0h2.2v2.2h-2.2zM391.9,869.4h2.2v2.2h-2.2zM386.7,837.9h2.2v2.2h-2.2zM268.9,1098.7h2.2v2.2h-2.2zM405.0,912.0h2.2v2.2h-2.2zM137.9,1081.3h2.2v2.2h-2.2zM360.0,898.8h2.2v2.2h-2.2zM348.1,1100.0h2.2v2.2h-2.2zM163.4,1012.0h2.2v2.2h-2.2zM218.4,1011.2h2.2v2.2h-2.2zM325.6,827.0h2.2v2.2h-2.2zM245.6,968.1h2.2v2.2h-2.2zM333.0,1050.1h2.2v2.2h-2.2zM271.8,1070.2h2.2v2.2h-2.2zM381.6,851.2h2.2v2.2h-2.2zM163.4,939.8h2.2v2.2h-2.2zM265.1,869.2h2.2v2.2h-2.2zM269.1,809.4h2.2v2.2h-2.2zM355.6,982.4h2.2v2.2h-2.2zM267.9,938.0h2.2v2.2h-2.2zM432.8,981.2h2.2v2.2h-2.2zM305.1,826.5h2.2v2.2h-2.2zM346.0,1065.6h2.2v2.2h-2.2zM265.3,1043.1h2.2v2.2h-2.2zM127.0,944.6h2.2v2.2h-2.2zM84.7,875.5h2.2v2.2h-2.2zM468.4,1043.8h2.2v2.2h-2.2zM161.2,879.5h2.2v2.2h-2.2zM165.9,946.6h2.2v2.2h-2.2zM215.0,906.5h2.2v2.2h-2.2zM314.0,810.8h2.2v2.2h-2.2zM347.6,1076.3h2.2v2.2h-2.2zM407.1,920.7h2.2v2.2h-2.2zM248.3,1117.8h2.2v2.2h-2.2zM174.2,924.5h2.2v2.2h-2.2zM376.0,1031.0h2.2v2.2h-2.2zM194.2,934.5h2.2v2.2h-2.2zM151.1,888.3h2.2v2.2h-2.2zM231.5,922.5h2.2v2.2h-2.2zM321.8,980.2h2.2v2.2h-2.2zM460.2,894.0h2.2v2.2h-2.2zM437.5,867.6h2.2v2.2h-2.2zM336.3,1105.6h2.2v2.2h-2.2zM222.7,903.7h2.2v2.2h-2.2zM181.2,849.1h2.2v2.2h-2.2zM259.6,851.7h2.2v2.2h-2.2zM238.3,846.6h2.2v2.2h-2.2zM350.3,976.1h2.2v2.2h-2.2zM267.7,986.7h2.2v2.2h-2.2zM208.2,1085.1h2.2v2.2h-2.2zM257.2,996.1h2.2v2.2h-2.2zM214.4,983.5h2.2v2.2h-2.2zM378.4,1000.0h2.2v2.2h-2.2zM165.0,956.9h2.2v2.2h-2.2zM288.8,999.1h2.2v2.2h-2.2zM356.1,1021.9h2.2v2.2h-2.2zM318.3,956.0h2.2v2.2h-2.2zM217.2,890.0h2.2v2.2h-2.2zM199.3,855.2h2.2v2.2h-2.2zM250.1,1046.6h2.2v2.2h-2.2zM134.2,1076.9h2.2v2.2h-2.2zM90.4,879.8h2.2v2.2h-2.2zM388.4,924.3h2.2v2.2h-2.2zM202.9,1042.5h2.2v2.2h-2.2zM401.2,980.7h2.2v2.2h-2.2zM352.5,998.6h2.2v2.2h-2.2zM74.5,986.5h2.2v2.2h-2.2zM458.1,841.1h2.2v2.2h-2.2zM183.7,1033.5h2.2v2.2h-2.2zM193.0,1055.8h2.2v2.2h-2.2zM182.8,924.1h2.2v2.2h-2.2zM347.3,973.8h2.2v2.2h-2.2zM443.4,878.9h2.2v2.2h-2.2zM295.9,844.3h2.2v2.2h-2.2zM178.9,871.3h2.2v2.2h-2.2zM100.4,856.8h2.2v2.2h-2.2zM468.9,863.1h2.2v2.2h-2.2zM263.2,931.5h2.2v2.2h-2.2zM227.8,816.6h2.2v2.2h-2.2zM445.5,1076.4h2.2v2.2h-2.2zM246.7,1066.5h2.2v2.2h-2.2zM371.2,897.8h2.2v2.2h-2.2zM73.2,865.7h2.2v2.2h-2.2zM73.4,967.8h2.2v2.2h-2.2zM391.0,1064.5h2.2v2.2h-2.2zM464.4,830.5h2.2v2.2h-2.2zM433.8,805.6h2.2v2.2h-2.2zM367.0,973.9h2.2v2.2h-2.2zM422.1,901.3h2.2v2.2h-2.2zM112.5,1116.0h2.2v2.2h-2.2zM455.0,868.7h2.2v2.2h-2.2zM142.6,913.0h2.2v2.2h-2.2zM327.2,866.4h2.2v2.2h-2.2zM424.9,1073.7h2.2v2.2h-2.2zM404.8,1020.1h2.2v2.2h-2.2zM161.2,991.4h2.2v2.2h-2.2zM275.6,808.4h2.2v2.2h-2.2zM248.2,989.1h2.2v2.2h-2.2zM442.6,846.9h2.2v2.2h-2.2zM364.4,1116.6h2.2v2.2h-2.2zM416.9,838.8h2.2v2.2h-2.2zM265.9,873.4h2.2v2.2h-2.2zM329.3,1099.9h2.2v2.2h-2.2zM388.9,962.7h2.2v2.2h-2.2zM95.0,1078.2h2.2v2.2h-2.2zM169.5,1057.9h2.2v2.2h-2.2zM291.6,1051.5h2.2v2.2h-2.2zM166.0,1055.6h2.2v2.2h-2.2zM378.1,974.9h2.2v2.2h-2.2zM141.9,923.1h2.2v2.2h-2.2zM465.1,864.6h2.2v2.2h-2.2zM205.2,899.5h2.2v2.2h-2.2zM180.7,992.2h2.2v2.2h-2.2zM141.5,839.2h2.2v2.2h-2.2zM147.7,1118.3h2.2v2.2h-2.2zM232.7,845.1h2.2v2.2h-2.2zM239.3,1062.1h2.2v2.2h-2.2zM252.2,961.1h2.2v2.2h-2.2zM301.3,889.7h2.2v2.2h-2.2zM183.9,1073.1h2.2v2.2h-2.2zM367.1,991.6h2.2v2.2h-2.2zM234.0,840.6h2.2v2.2h-2.2zM398.0,1071.8h2.2v2.2h-2.2zM287.9,830.0h2.2v2.2h-2.2zM255.4,899.8h2.2v2.2h-2.2zM311.8,1110.5h2.2v2.2h-2.2zM467.0,925.2h2.2v2.2h-2.2zM329.6,1023.7h2.2v2.2h-2.2zM95.7,946.8h2.2v2.2h-2.2zM332.1,868.2h2.2v2.2h-2.2zM135.9,1007.0h2.2v2.2h-2.2zM366.6,879.6h2.2v2.2h-2.2zM256.9,803.1h2.2v2.2h-2.2zM209.8,970.6h2.2v2.2h-2.2zM272.4,838.1h2.2v2.2h-2.2zM121.0,826.5h2.2v2.2h-2.2zM250.1,977.7h2.2v2.2h-2.2zM410.1,831.6h2.2v2.2h-2.2zM131.1,1110.4h2.2v2.2h-2.2zM232.0,995.1h2.2v2.2h-2.2zM130.7,1061.5h2.2v2.2h-2.2zM354.8,848.4h2.2v2.2h-2.2zM456.4,1005.1h2.2v2.2h-2.2zM173.6,834.0h2.2v2.2h-2.2zM200.8,955.5h2.2v2.2h-2.2zM424.6,1102.8h2.2v2.2h-2.2zM216.5,936.2h2.2v2.2h-2.2zM212.8,936.6h2.2v2.2h-2.2zM268.6,964.2h2.2v2.2h-2.2zM177.3,1054.2h2.2v2.2h-2.2zM341.6,825.5h2.2v2.2h-2.2zM397.6,1051.8h2.2v2.2h-2.2zM319.5,975.8h2.2v2.2h-2.2zM325.1,805.2h2.2v2.2h-2.2zM364.5,932.7h2.2v2.2h-2.2zM382.3,939.8h2.2v2.2h-2.2zM220.5,942.2h2.2v2.2h-2.2zM116.3,901.0h2.2v2.2h-2.2zM97.7,835.3h2.2v2.2h-2.2zM116.5,897.8h2.2v2.2h-2.2zM235.3,970.7h2.2v2.2h-2.2zM118.5,1079.3h2.2v2.2h-2.2zM339.4,1096.9h2.2v2.2h-2.2zM345.5,922.9h2.2v2.2h-2.2zM134.7,910.6h2.2v2.2h-2.2zM277.5,923.1h2.2v2.2h-2.2zM406.8,913.4h2.2v2.2h-2.2zM356.3,937.3h2.2v2.2h-2.2zM293.4,1112.2h2.2v2.2h-2.2zM408.8,809.3h2.2v2.2h-2.2zM129.8,1104.2h2.2v2.2h-2.2zM392.1,829.5h2.2v2.2h-2.2zM156.6,862.2h2.2v2.2h-2.2zM313.5,836.9h2.2v2.2h-2.2zM302.6,1087.6h2.2v2.2h-2.2zM345.4,915.2h2.2v2.2h-2.2zM357.1,891.7h2.2v2.2h-2.2zM180.3,962.0h2.2v2.2h-2.2zM133.2,1074.8h2.2v2.2h-2.2zM313.4,973.1h2.2v2.2h-2.2zM283.4,1010.5h2.2v2.2h-2.2zM444.6,914.8h2.2v2.2h-2.2zM361.4,1101.8h2.2v2.2h-2.2zM449.9,833.5h2.2v2.2h-2.2zM332.5,821.1h2.2v2.2h-2.2zM465.5,897.6h2.2v2.2h-2.2zM80.9,981.8h2.2v2.2h-2.2zM343.7,1073.4h2.2v2.2h-2.2zM278.0,822.9h2.2v2.2h-2.2zM269.1,861.6h2.2v2.2h-2.2zM264.3,977.5h2.2v2.2h-2.2zM203.6,1024.1h2.2v2.2h-2.2zM460.4,1103.9h2.2v2.2h-2.2zM265.4,988.2h2.2v2.2h-2.2zM314.7,995.4h2.2v2.2h-2.2zM103.6,965.2h2.2v2.2h-2.2zM81.8,834.0h2.2v2.2h-2.2zM401.7,1019.7h2.2v2.2h-2.2zM301.6,1041.9h2.2v2.2h-2.2zM69.3,819.9h2.2v2.2h-2.2zM460.1,1066.3h2.2v2.2h-2.2zM377.9,882.4h2.2v2.2h-2.2zM280.0,906.0h2.2v2.2h-2.2zM251.4,873.5h2.2v2.2h-2.2zM278.6,880.1h2.2v2.2h-2.2zM201.2,1031.9h2.2v2.2h-2.2zM211.9,1091.3h2.2v2.2h-2.2zM224.3,841.6h2.2v2.2h-2.2zM382.7,906.9h2.2v2.2h-2.2zM221.2,890.4h2.2v2.2h-2.2zM366.3,951.2h2.2v2.2h-2.2zM151.4,1080.8h2.2v2.2h-2.2zM442.5,908.1h2.2v2.2h-2.2zM125.8,1028.1h2.2v2.2h-2.2zM146.3,841.7h2.2v2.2h-2.2zM422.9,1031.9h2.2v2.2h-2.2zM280.3,972.0h2.2v2.2h-2.2zM374.7,967.6h2.2v2.2h-2.2zM193.1,1042.9h2.2v2.2h-2.2zM296.9,892.8h2.2v2.2h-2.2zM459.0,946.0h2.2v2.2h-2.2zM134.3,853.7h2.2v2.2h-2.2zM389.5,958.7h2.2v2.2h-2.2zM317.1,916.9h2.2v2.2h-2.2zM423.4,985.1h2.2v2.2h-2.2zM435.4,873.1h2.2v2.2h-2.2zM303.0,848.8h2.2v2.2h-2.2zM182.9,829.2h2.2v2.2h-2.2zM208.2,978.1h2.2v2.2h-2.2zM299.3,1001.5h2.2v2.2h-2.2zM105.1,958.2h2.2v2.2h-2.2zM246.5,825.2h2.2v2.2h-2.2zM163.0,1065.0h2.2v2.2h-2.2zM171.1,1088.7h2.2v2.2h-2.2zM239.9,976.8h2.2v2.2h-2.2zM147.8,867.3h2.2v2.2h-2.2zM391.2,1113.1h2.2v2.2h-2.2zM343.7,1054.8h2.2v2.2h-2.2zM437.7,805.4h2.2v2.2h-2.2zM206.6,1052.9h2.2v2.2h-2.2zM434.3,1098.3h2.2v2.2h-2.2zM143.6,1021.5h2.2v2.2h-2.2zM360.4,816.9h2.2v2.2h-2.2zM377.2,1050.9h2.2v2.2h-2.2zM297.2,1101.8h2.2v2.2h-2.2zM78.2,849.9h2.2v2.2h-2.2zM160.7,1008.5h2.2v2.2h-2.2zM178.4,858.3h2.2v2.2h-2.2zM450.8,997.4h2.2v2.2h-2.2zM414.9,970.4h2.2v2.2h-2.2zM280.3,1103.6h2.2v2.2h-2.2zM242.6,1018.8h2.2v2.2h-2.2zM291.6,1004.5h2.2v2.2h-2.2zM430.9,878.9h2.2v2.2h-2.2zM290.1,885.8h2.2v2.2h-2.2zM360.4,900.8h2.2v2.2h-2.2zM328.7,1025.3h2.2v2.2h-2.2zM242.4,832.3h2.2v2.2h-2.2zM97.5,884.8h2.2v2.2h-2.2zM244.5,839.2h2.2v2.2h-2.2zM298.8,1037.6h2.2v2.2h-2.2zM329.5,1017.4h2.2v2.2h-2.2zM98.2,923.9h2.2v2.2h-2.2zM111.4,1105.1h2.2v2.2h-2.2zM157.6,1076.7h2.2v2.2h-2.2zM233.6,926.4h2.2v2.2h-2.2zM172.2,1052.8h2.2v2.2h-2.2zM248.8,915.8h2.2v2.2h-2.2zM250.7,899.6h2.2v2.2h-2.2zM233.9,895.8h2.2v2.2h-2.2zM251.5,950.5h2.2v2.2h-2.2zM251.3,919.1h2.2v2.2h-2.2zM460.5,1051.0h2.2v2.2h-2.2zM359.3,1103.8h2.2v2.2h-2.2zM337.2,938.1h2.2v2.2h-2.2zM159.6,1046.1h2.2v2.2h-2.2zM462.0,908.0h2.2v2.2h-2.2zM75.7,932.0h2.2v2.2h-2.2zM435.0,817.2h2.2v2.2h-2.2zM305.7,1027.3h2.2v2.2h-2.2zM351.8,978.7h2.2v2.2h-2.2zM464.8,841.9h2.2v2.2h-2.2zM199.2,1032.0h2.2v2.2h-2.2zM179.1,980.6h2.2v2.2h-2.2zM267.6,851.8h2.2v2.2h-2.2zM311.9,946.2h2.2v2.2h-2.2zM466.5,981.4h2.2v2.2h-2.2zM189.5,1020.8h2.2v2.2h-2.2zM193.8,1079.0h2.2v2.2h-2.2zM103.4,1053.7h2.2v2.2h-2.2zM175.0,955.5h2.2v2.2h-2.2zM80.3,1061.7h2.2v2.2h-2.2zM153.7,1024.5h2.2v2.2h-2.2zM259.0,899.0h2.2v2.2h-2.2zM394.7,981.5h2.2v2.2h-2.2zM317.5,846.4h2.2v2.2h-2.2zM205.8,939.7h2.2v2.2h-2.2zM400.9,1092.7h2.2v2.2h-2.2zM137.7,912.4h2.2v2.2h-2.2zM155.6,1082.2h2.2v2.2h-2.2zM357.1,813.2h2.2v2.2h-2.2zM94.1,1068.8h2.2v2.2h-2.2zM210.6,1115.1h2.2v2.2h-2.2zM178.3,1012.8h2.2v2.2h-2.2zM75.5,898.0h2.2v2.2h-2.2zM176.7,834.4h2.2v2.2h-2.2zM424.7,1040.8h2.2v2.2h-2.2zM333.4,1020.9h2.2v2.2h-2.2zM234.7,923.6h2.2v2.2h-2.2zM256.9,968.3h2.2v2.2h-2.2zM145.7,1077.7h2.2v2.2h-2.2zM343.1,1020.7h2.2v2.2h-2.2zM251.3,926.0h2.2v2.2h-2.2zM422.1,1117.2h2.2v2.2h-2.2zM458.4,973.0h2.2v2.2h-2.2zM193.2,1075.6h2.2v2.2h-2.2zM466.1,822.3h2.2v2.2h-2.2zM325.4,833.6h2.2v2.2h-2.2zM445.7,938.2h2.2v2.2h-2.2zM255.1,1087.9h2.2v2.2h-2.2zM155.9,941.9h2.2v2.2h-2.2zM204.0,984.0h2.2v2.2h-2.2zM76.2,868.8h2.2v2.2h-2.2zM155.0,821.4h2.2v2.2h-2.2zM202.9,1106.4h2.2v2.2h-2.2zM395.6,1031.2h2.2v2.2h-2.2zM91.9,809.0h2.2v2.2h-2.2zM134.6,950.5h2.2v2.2h-2.2zM197.8,881.5h2.2v2.2h-2.2zM143.0,1002.5h2.2v2.2h-2.2zM444.1,812.1h2.2v2.2h-2.2zM355.7,857.7h2.2v2.2h-2.2zM407.7,1023.6h2.2v2.2h-2.2zM266.3,921.7h2.2v2.2h-2.2zM88.5,807.0h2.2v2.2h-2.2zM269.6,958.9h2.2v2.2h-2.2zM359.6,823.2h2.2v2.2h-2.2zM82.4,859.0h2.2v2.2h-2.2zM407.4,997.5h2.2v2.2h-2.2zM84.1,807.1h2.2v2.2h-2.2zM408.4,991.7h2.2v2.2h-2.2zM259.2,810.8h2.2v2.2h-2.2zM183.1,892.3h2.2v2.2h-2.2zM383.5,1023.2h2.2v2.2h-2.2zM143.5,924.7h2.2v2.2h-2.2zM376.0,834.3h2.2v2.2h-2.2zM311.8,1106.7h2.2v2.2h-2.2zM300.4,1084.6h2.2v2.2h-2.2zM405.5,1009.2h2.2v2.2h-2.2zM126.6,928.0h2.2v2.2h-2.2zM312.3,859.6h2.2v2.2h-2.2zM409.5,862.0h2.2v2.2h-2.2zM356.1,872.9h2.2v2.2h-2.2zM358.8,1073.9h2.2v2.2h-2.2zM194.4,1036.8h2.2v2.2h-2.2zM343.9,846.9h2.2v2.2h-2.2zM456.7,863.4h2.2v2.2h-2.2zM134.0,809.4h2.2v2.2h-2.2zM142.5,1033.3h2.2v2.2h-2.2zM108.4,809.5h2.2v2.2h-2.2zM399.6,1018.2h2.2v2.2h-2.2zM282.2,839.2h2.2v2.2h-2.2zM338.2,1032.6h2.2v2.2h-2.2zM291.2,985.4h2.2v2.2h-2.2zM379.5,1001.8h2.2v2.2h-2.2zM310.2,962.0h2.2v2.2h-2.2zM92.6,840.4h2.2v2.2h-2.2zM342.5,1117.0h2.2v2.2h-2.2zM185.3,944.7h2.2v2.2h-2.2zM391.4,925.0h2.2v2.2h-2.2zM263.1,926.2h2.2v2.2h-2.2zM229.3,823.6h2.2v2.2h-2.2zM129.4,846.0h2.2v2.2h-2.2zM310.4,1043.9h2.2v2.2h-2.2zM187.3,916.5h2.2v2.2h-2.2zM154.5,801.7h2.2v2.2h-2.2zM339.7,866.9h2.2v2.2h-2.2zM311.6,814.4h2.2v2.2h-2.2zM203.4,844.3h2.2v2.2h-2.2zM112.8,810.0h2.2v2.2h-2.2zM257.5,1088.0h2.2v2.2h-2.2zM151.8,812.5h2.2v2.2h-2.2zM257.6,895.0h2.2v2.2h-2.2zM439.4,1103.5h2.2v2.2h-2.2zM197.5,1031.1h2.2v2.2h-2.2zM387.8,811.1h2.2v2.2h-2.2zM125.1,973.9h2.2v2.2h-2.2zM415.8,878.1h2.2v2.2h-2.2zM196.3,852.2h2.2v2.2h-2.2zM373.5,906.4h2.2v2.2h-2.2zM348.3,1032.3h2.2v2.2h-2.2zM400.4,957.8h2.2v2.2h-2.2zM350.8,990.5h2.2v2.2h-2.2zM377.7,993.9h2.2v2.2h-2.2zM457.8,929.0h2.2v2.2h-2.2zM408.6,1055.5h2.2v2.2h-2.2zM407.3,922.3h2.2v2.2h-2.2zM421.0,911.6h2.2v2.2h-2.2zM149.9,891.6h2.2v2.2h-2.2zM458.9,913.8h2.2v2.2h-2.2zM392.9,827.0h2.2v2.2h-2.2zM108.0,827.8h2.2v2.2h-2.2zM131.7,1117.4h2.2v2.2h-2.2zM428.8,1106.0h2.2v2.2h-2.2zM327.9,950.3h2.2v2.2h-2.2zM337.4,848.9h2.2v2.2h-2.2zM234.8,964.0h2.2v2.2h-2.2zM345.3,981.5h2.2v2.2h-2.2zM87.9,849.7h2.2v2.2h-2.2zM193.1,939.4h2.2v2.2h-2.2zM295.3,888.0h2.2v2.2h-2.2zM202.0,1070.3h2.2v2.2h-2.2zM377.3,988.3h2.2v2.2h-2.2zM254.4,880.8h2.2v2.2h-2.2zM132.7,1063.9h2.2v2.2h-2.2zM140.4,1041.4h2.2v2.2h-2.2zM135.0,872.5h2.2v2.2h-2.2zM210.4,875.7h2.2v2.2h-2.2zM357.7,1047.9h2.2v2.2h-2.2zM251.5,1018.7h2.2v2.2h-2.2zM82.0,823.6h2.2v2.2h-2.2zM124.0,988.1h2.2v2.2h-2.2zM144.8,899.6h2.2v2.2h-2.2zM364.5,895.5h2.2v2.2h-2.2zM211.4,949.9h2.2v2.2h-2.2zM174.0,1059.0h2.2v2.2h-2.2zM310.0,1106.9h2.2v2.2h-2.2zM246.3,1068.2h2.2v2.2h-2.2zM150.7,1087.1h2.2v2.2h-2.2zM186.3,932.9h2.2v2.2h-2.2zM339.4,906.1h2.2v2.2h-2.2zM421.5,914.0h2.2v2.2h-2.2zM383.9,977.2h2.2v2.2h-2.2zM206.8,1039.9h2.2v2.2h-2.2zM386.7,1067.1h2.2v2.2h-2.2zM360.1,1015.0h2.2v2.2h-2.2zM282.9,984.4h2.2v2.2h-2.2zM370.6,996.4h2.2v2.2h-2.2zM433.2,814.0h2.2v2.2h-2.2zM294.8,844.5h2.2v2.2h-2.2zM363.1,1081.0h2.2v2.2h-2.2zM179.3,824.1h2.2v2.2h-2.2zM362.3,817.5h2.2v2.2h-2.2zM280.7,808.8h2.2v2.2h-2.2zM204.6,831.6h2.2v2.2h-2.2zM443.8,838.0h2.2v2.2h-2.2zM202.7,930.1h2.2v2.2h-2.2zM243.5,989.9h2.2v2.2h-2.2zM442.5,1090.2h2.2v2.2h-2.2zM160.6,876.7h2.2v2.2h-2.2zM105.4,865.4h2.2v2.2h-2.2zM166.2,1051.3h2.2v2.2h-2.2zM174.6,831.0h2.2v2.2h-2.2zM458.6,1028.8h2.2v2.2h-2.2zM368.5,1045.1h2.2v2.2h-2.2zM177.8,967.1h2.2v2.2h-2.2zM454.1,1103.9h2.2v2.2h-2.2zM406.3,1071.2h2.2v2.2h-2.2zM296.2,821.9h2.2v2.2h-2.2zM93.6,1033.3h2.2v2.2h-2.2zM427.4,1117.0h2.2v2.2h-2.2zM339.9,1012.2h2.2v2.2h-2.2zM429.9,1031.0h2.2v2.2h-2.2zM254.4,864.0h2.2v2.2h-2.2zM159.9,869.3h2.2v2.2h-2.2zM347.8,1092.0h2.2v2.2h-2.2zM77.3,1077.4h2.2v2.2h-2.2zM205.0,821.0h2.2v2.2h-2.2zM90.7,1017.3h2.2v2.2h-2.2zM336.8,993.2h2.2v2.2h-2.2zM453.8,1059.7h2.2v2.2h-2.2zM253.3,802.7h2.2v2.2h-2.2zM325.0,1075.9h2.2v2.2h-2.2zM214.7,799.5h2.2v2.2h-2.2zM319.5,1115.3h2.2v2.2h-2.2zM410.9,1046.7h2.2v2.2h-2.2zM227.4,838.0h2.2v2.2h-2.2zM460.9,861.0h2.2v2.2h-2.2zM428.1,891.9h2.2v2.2h-2.2zM279.1,883.7h2.2v2.2h-2.2zM396.0,1045.9h2.2v2.2h-2.2zM307.6,1077.0h2.2v2.2h-2.2zM91.2,840.0h2.2v2.2h-2.2zM405.8,1116.6h2.2v2.2h-2.2zM132.3,980.6h2.2v2.2h-2.2zM311.5,841.3h2.2v2.2h-2.2zM273.7,884.5h2.2v2.2h-2.2zM223.3,820.5h2.2v2.2h-2.2zM312.5,901.0h2.2v2.2h-2.2zM432.0,1117.1h2.2v2.2h-2.2zM438.5,879.5h2.2v2.2h-2.2zM387.1,817.6h2.2v2.2h-2.2zM397.2,957.8h2.2v2.2h-2.2zM280.0,1096.0h2.2v2.2h-2.2zM115.7,1030.2h2.2v2.2h-2.2zM201.0,1046.4h2.2v2.2h-2.2zM69.6,1108.2h2.2v2.2h-2.2zM134.5,813.8h2.2v2.2h-2.2zM80.5,957.0h2.2v2.2h-2.2zM80.9,994.2h2.2v2.2h-2.2zM344.5,1066.2h2.2v2.2h-2.2zM167.1,848.2h2.2v2.2h-2.2zM436.2,1095.3h2.2v2.2h-2.2zM89.6,916.8h2.2v2.2h-2.2zM211.8,863.6h2.2v2.2h-2.2zM283.3,816.1h2.2v2.2h-2.2zM393.0,882.5h2.2v2.2h-2.2zM166.9,924.6h2.2v2.2h-2.2zM70.4,976.4h2.2v2.2h-2.2zM355.6,1103.2h2.2v2.2h-2.2zM158.6,862.1h2.2v2.2h-2.2zM117.4,1099.1h2.2v2.2h-2.2zM422.3,923.5h2.2v2.2h-2.2zM137.2,1031.8h2.2v2.2h-2.2zM102.5,1056.7h2.2v2.2h-2.2zM260.0,834.9h2.2v2.2h-2.2zM123.9,841.0h2.2v2.2h-2.2zM327.0,1055.9h2.2v2.2h-2.2zM266.0,807.1h2.2v2.2h-2.2zM342.4,1058.3h2.2v2.2h-2.2zM434.8,1066.8h2.2v2.2h-2.2zM91.6,1044.1h2.2v2.2h-2.2zM464.5,891.2h2.2v2.2h-2.2zM416.4,1110.0h2.2v2.2h-2.2zM316.3,818.5h2.2v2.2h-2.2zM297.2,819.1h2.2v2.2h-2.2zM101.1,932.4h2.2v2.2h-2.2zM365.5,1072.8h2.2v2.2h-2.2zM245.9,815.7h2.2v2.2h-2.2zM400.8,994.4h2.2v2.2h-2.2zM405.7,986.3h2.2v2.2h-2.2zM242.0,1069.8h2.2v2.2h-2.2zM293.1,929.7h2.2v2.2h-2.2zM80.5,1058.0h2.2v2.2h-2.2zM130.7,802.9h2.2v2.2h-2.2zM167.8,995.9h2.2v2.2h-2.2zM368.6,888.2h2.2v2.2h-2.2zM417.6,1016.4h2.2v2.2h-2.2zM207.6,1105.2h2.2v2.2h-2.2zM114.4,810.8h2.2v2.2h-2.2zM166.0,830.2h2.2v2.2h-2.2zM214.7,1098.3h2.2v2.2h-2.2zM403.7,1113.7h2.2v2.2h-2.2zM444.0,998.4h2.2v2.2h-2.2zM198.9,920.1h2.2v2.2h-2.2zM168.1,1004.7h2.2v2.2h-2.2zM216.1,937.8h2.2v2.2h-2.2zM288.4,964.8h2.2v2.2h-2.2zM290.8,1016.4h2.2v2.2h-2.2zM245.3,1083.5h2.2v2.2h-2.2zM186.6,983.1h2.2v2.2h-2.2zM251.1,855.4h2.2v2.2h-2.2zM278.9,853.4h2.2v2.2h-2.2zM309.7,999.1h2.2v2.2h-2.2zM314.6,893.2h2.2v2.2h-2.2zM345.1,867.3h2.2v2.2h-2.2zM303.8,1111.8h2.2v2.2h-2.2zM218.4,937.2h2.2v2.2h-2.2zM357.4,857.6h2.2v2.2h-2.2zM462.8,957.5h2.2v2.2h-2.2zM76.0,988.4h2.2v2.2h-2.2zM315.9,1050.1h2.2v2.2h-2.2zM366.6,992.5h2.2v2.2h-2.2zM288.9,1012.8h2.2v2.2h-2.2zM105.3,1015.3h2.2v2.2h-2.2zM240.6,1110.3h2.2v2.2h-2.2zM354.6,852.8h2.2v2.2h-2.2zM468.7,826.6h2.2v2.2h-2.2zM71.4,1112.7h2.2v2.2h-2.2zM248.8,1003.3h2.2v2.2h-2.2zM134.7,912.6h2.2v2.2h-2.2zM417.8,834.7h2.2v2.2h-2.2zM258.1,976.0h2.2v2.2h-2.2zM309.3,902.1h2.2v2.2h-2.2zM309.2,885.3h2.2v2.2h-2.2zM416.8,812.9h2.2v2.2h-2.2zM161.9,938.9h2.2v2.2h-2.2zM310.2,885.1h2.2v2.2h-2.2zM258.8,1054.2h2.2v2.2h-2.2zM164.1,1112.6h2.2v2.2h-2.2zM203.3,880.0h2.2v2.2h-2.2zM414.0,883.2h2.2v2.2h-2.2zM244.8,927.1h2.2v2.2h-2.2zM278.7,974.4h2.2v2.2h-2.2zM139.6,957.5h2.2v2.2h-2.2zM90.5,899.5h2.2v2.2h-2.2zM457.4,1006.7h2.2v2.2h-2.2zM305.9,1091.1h2.2v2.2h-2.2zM165.2,917.9h2.2v2.2h-2.2zM113.1,1095.6h2.2v2.2h-2.2zM149.3,956.3h2.2v2.2h-2.2zM165.8,858.3h2.2v2.2h-2.2zM344.8,871.2h2.2v2.2h-2.2zM304.0,1039.8h2.2v2.2h-2.2zM202.7,1118.8h2.2v2.2h-2.2zM174.6,1045.0h2.2v2.2h-2.2zM128.0,1016.8h2.2v2.2h-2.2zM318.4,941.3h2.2v2.2h-2.2zM350.8,1067.9h2.2v2.2h-2.2zM294.1,889.4h2.2v2.2h-2.2zM242.7,1060.6h2.2v2.2h-2.2zM250.5,1045.5h2.2v2.2h-2.2zM229.1,838.0h2.2v2.2h-2.2zM378.9,800.2h2.2v2.2h-2.2zM274.3,845.4h2.2v2.2h-2.2zM308.6,936.7h2.2v2.2h-2.2zM239.5,1050.3h2.2v2.2h-2.2zM188.5,1103.3h2.2v2.2h-2.2zM365.3,848.2h2.2v2.2h-2.2zM78.9,1090.2h2.2v2.2h-2.2zM216.5,802.1h2.2v2.2h-2.2zM334.8,812.7h2.2v2.2h-2.2zM96.1,873.1h2.2v2.2h-2.2zM376.7,873.4h2.2v2.2h-2.2zM390.0,992.4h2.2v2.2h-2.2zM279.3,989.9h2.2v2.2h-2.2zM324.1,979.6h2.2v2.2h-2.2zM233.8,1069.1h2.2v2.2h-2.2zM422.0,1115.5h2.2v2.2h-2.2zM378.6,1020.2h2.2v2.2h-2.2zM168.3,831.0h2.2v2.2h-2.2zM168.5,995.2h2.2v2.2h-2.2zM190.8,1022.4h2.2v2.2h-2.2zM196.8,899.0h2.2v2.2h-2.2zM241.1,1001.6h2.2v2.2h-2.2zM376.9,1058.5h2.2v2.2h-2.2zM458.7,942.5h2.2v2.2h-2.2zM330.2,899.1h2.2v2.2h-2.2zM236.6,977.3h2.2v2.2h-2.2zM431.0,1111.2h2.2v2.2h-2.2zM181.1,804.2h2.2v2.2h-2.2zM96.4,894.1h2.2v2.2h-2.2zM339.1,1063.2h2.2v2.2h-2.2zM220.9,957.6h2.2v2.2h-2.2zM171.9,816.9h2.2v2.2h-2.2zM304.1,1027.6h2.2v2.2h-2.2zM444.7,1030.6h2.2v2.2h-2.2zM290.1,991.0h2.2v2.2h-2.2zM341.3,813.0h2.2v2.2h-2.2zM256.4,864.2h2.2v2.2h-2.2zM320.9,1073.2h2.2v2.2h-2.2zM171.5,949.5h2.2v2.2h-2.2zM279.6,1035.5h2.2v2.2h-2.2zM430.8,993.9h2.2v2.2h-2.2zM407.9,876.6h2.2v2.2h-2.2zM342.9,855.4h2.2v2.2h-2.2zM229.5,828.1h2.2v2.2h-2.2zM210.9,1027.3h2.2v2.2h-2.2zM459.8,1081.2h2.2v2.2h-2.2zM406.2,1092.2h2.2v2.2h-2.2zM215.1,903.6h2.2v2.2h-2.2zM238.5,954.2h2.2v2.2h-2.2zM322.6,845.6h2.2v2.2h-2.2zM163.3,996.7h2.2v2.2h-2.2z" fill="#4c5030"/>
<path d="M387.0,828.3h2.4v2.4h-2.4zM331.2,996.2h2.4v2.4h-2.4zM334.6,945.3h2.4v2.4h-2.4zM352.8,899.5h2.4v2.4h-2.4zM229.6,1070.6h2.4v2.4h-2.4zM321.4,1048.7h2.4v2.4h-2.4zM373.0,836.0h2.4v2.4h-2.4zM145.5,1033.7h2.4v2.4h-2.4zM105.1,985.6h2.4v2.4h-2.4zM416.5,856.9h2.4v2.4h-2.4zM433.3,1061.3h2.4v2.4h-2.4zM311.0,933.7h2.4v2.4h-2.4zM84.5,1108.0h2.4v2.4h-2.4zM308.2,892.5h2.4v2.4h-2.4zM357.9,820.1h2.4v2.4h-2.4zM181.4,1093.4h2.4v2.4h-2.4zM93.2,854.8h2.4v2.4h-2.4zM298.4,840.4h2.4v2.4h-2.4zM346.2,986.2h2.4v2.4h-2.4zM245.6,1068.0h2.4v2.4h-2.4zM171.6,801.6h2.4v2.4h-2.4zM340.9,863.2h2.4v2.4h-2.4zM435.6,1081.4h2.4v2.4h-2.4zM302.8,899.9h2.4v2.4h-2.4zM354.2,1103.9h2.4v2.4h-2.4zM136.8,943.1h2.4v2.4h-2.4zM353.2,981.7h2.4v2.4h-2.4zM386.4,804.2h2.4v2.4h-2.4zM355.4,855.7h2.4v2.4h-2.4zM315.4,1041.5h2.4v2.4h-2.4zM386.6,1089.8h2.4v2.4h-2.4zM443.0,1030.6h2.4v2.4h-2.4zM389.7,853.7h2.4v2.4h-2.4zM385.0,843.2h2.4v2.4h-2.4zM449.6,825.7h2.4v2.4h-2.4zM293.5,898.4h2.4v2.4h-2.4zM407.9,1088.0h2.4v2.4h-2.4zM177.0,950.4h2.4v2.4h-2.4zM260.1,900.1h2.4v2.4h-2.4zM316.8,1095.9h2.4v2.4h-2.4zM381.5,805.3h2.4v2.4h-2.4zM160.1,1019.2h2.4v2.4h-2.4zM211.5,997.6h2.4v2.4h-2.4zM281.3,849.4h2.4v2.4h-2.4zM431.0,899.7h2.4v2.4h-2.4zM424.9,841.1h2.4v2.4h-2.4zM360.4,881.6h2.4v2.4h-2.4zM434.5,1109.8h2.4v2.4h-2.4zM275.4,981.1h2.4v2.4h-2.4zM466.1,1096.5h2.4v2.4h-2.4zM231.5,860.8h2.4v2.4h-2.4zM358.8,820.7h2.4v2.4h-2.4zM257.0,801.4h2.4v2.4h-2.4zM325.1,998.9h2.4v2.4h-2.4zM447.8,1012.5h2.4v2.4h-2.4zM147.4,919.0h2.4v2.4h-2.4zM87.1,1097.5h2.4v2.4h-2.4zM187.7,802.5h2.4v2.4h-2.4zM260.5,1111.4h2.4v2.4h-2.4zM336.8,944.7h2.4v2.4h-2.4zM363.4,874.8h2.4v2.4h-2.4zM371.1,859.1h2.4v2.4h-2.4zM84.8,817.6h2.4v2.4h-2.4zM239.5,998.7h2.4v2.4h-2.4zM286.2,821.3h2.4v2.4h-2.4zM218.6,952.1h2.4v2.4h-2.4zM319.1,1045.5h2.4v2.4h-2.4zM438.3,935.7h2.4v2.4h-2.4zM347.3,889.1h2.4v2.4h-2.4zM212.5,1031.8h2.4v2.4h-2.4zM244.6,1056.6h2.4v2.4h-2.4zM427.8,878.0h2.4v2.4h-2.4zM215.6,915.0h2.4v2.4h-2.4zM278.1,1044.2h2.4v2.4h-2.4zM466.4,918.9h2.4v2.4h-2.4zM151.0,934.8h2.4v2.4h-2.4zM457.9,817.1h2.4v2.4h-2.4zM112.6,857.4h2.4v2.4h-2.4zM158.8,857.6h2.4v2.4h-2.4zM138.2,1041.9h2.4v2.4h-2.4zM449.0,1056.1h2.4v2.4h-2.4zM280.6,964.1h2.4v2.4h-2.4zM466.1,1009.7h2.4v2.4h-2.4zM73.4,950.2h2.4v2.4h-2.4zM132.1,848.5h2.4v2.4h-2.4zM324.4,1117.8h2.4v2.4h-2.4zM398.7,824.5h2.4v2.4h-2.4zM236.2,1093.2h2.4v2.4h-2.4zM213.2,1019.2h2.4v2.4h-2.4zM220.2,1026.6h2.4v2.4h-2.4zM466.6,1055.4h2.4v2.4h-2.4zM316.0,891.5h2.4v2.4h-2.4zM285.4,894.0h2.4v2.4h-2.4zM226.3,1012.7h2.4v2.4h-2.4zM149.2,1033.5h2.4v2.4h-2.4zM202.0,1064.3h2.4v2.4h-2.4zM404.6,988.9h2.4v2.4h-2.4zM159.9,848.6h2.4v2.4h-2.4zM376.5,1062.4h2.4v2.4h-2.4zM76.4,904.6h2.4v2.4h-2.4zM329.9,832.2h2.4v2.4h-2.4zM431.1,974.5h2.4v2.4h-2.4zM320.5,861.7h2.4v2.4h-2.4zM201.0,1097.2h2.4v2.4h-2.4zM293.9,978.4h2.4v2.4h-2.4zM184.7,1086.8h2.4v2.4h-2.4zM299.0,1065.5h2.4v2.4h-2.4zM391.3,803.3h2.4v2.4h-2.4zM256.7,844.0h2.4v2.4h-2.4zM174.7,980.9h2.4v2.4h-2.4zM347.7,967.4h2.4v2.4h-2.4zM191.8,925.4h2.4v2.4h-2.4zM296.3,1088.9h2.4v2.4h-2.4zM450.3,798.2h2.4v2.4h-2.4zM427.9,1060.6h2.4v2.4h-2.4zM81.5,1087.3h2.4v2.4h-2.4zM258.5,864.5h2.4v2.4h-2.4zM439.0,1086.8h2.4v2.4h-2.4zM150.0,1001.6h2.4v2.4h-2.4zM421.9,814.1h2.4v2.4h-2.4zM417.7,1027.6h2.4v2.4h-2.4zM100.7,869.9h2.4v2.4h-2.4zM353.9,861.3h2.4v2.4h-2.4zM305.6,871.7h2.4v2.4h-2.4zM440.6,1012.8h2.4v2.4h-2.4zM87.2,991.1h2.4v2.4h-2.4zM169.6,1056.6h2.4v2.4h-2.4zM183.3,1041.3h2.4v2.4h-2.4zM180.9,974.5h2.4v2.4h-2.4zM254.1,1039.7h2.4v2.4h-2.4zM441.6,959.0h2.4v2.4h-2.4zM292.0,1005.7h2.4v2.4h-2.4zM277.7,1104.4h2.4v2.4h-2.4zM384.4,1052.7h2.4v2.4h-2.4zM386.4,874.6h2.4v2.4h-2.4zM193.7,811.6h2.4v2.4h-2.4zM318.1,967.2h2.4v2.4h-2.4zM137.8,880.1h2.4v2.4h-2.4zM93.5,930.2h2.4v2.4h-2.4zM125.8,924.5h2.4v2.4h-2.4zM329.6,816.8h2.4v2.4h-2.4zM424.4,947.0h2.4v2.4h-2.4zM155.4,909.9h2.4v2.4h-2.4zM289.4,850.8h2.4v2.4h-2.4zM155.0,948.6h2.4v2.4h-2.4zM415.0,863.9h2.4v2.4h-2.4zM98.2,1020.6h2.4v2.4h-2.4zM179.1,804.0h2.4v2.4h-2.4zM355.8,884.5h2.4v2.4h-2.4zM130.6,1099.6h2.4v2.4h-2.4zM77.2,901.7h2.4v2.4h-2.4zM102.4,1082.1h2.4v2.4h-2.4zM123.5,1025.5h2.4v2.4h-2.4zM359.9,1012.5h2.4v2.4h-2.4zM159.6,892.0h2.4v2.4h-2.4zM163.1,1001.7h2.4v2.4h-2.4zM165.2,828.0h2.4v2.4h-2.4zM78.2,924.0h2.4v2.4h-2.4zM174.0,1013.1h2.4v2.4h-2.4zM233.8,931.8h2.4v2.4h-2.4zM401.7,1081.3h2.4v2.4h-2.4zM433.8,810.3h2.4v2.4h-2.4zM272.3,897.4h2.4v2.4h-2.4zM460.8,846.3h2.4v2.4h-2.4zM160.6,1017.0h2.4v2.4h-2.4zM69.4,973.1h2.4v2.4h-2.4zM402.3,1110.0h2.4v2.4h-2.4zM208.0,1083.4h2.4v2.4h-2.4zM455.5,1063.5h2.4v2.4h-2.4zM283.1,874.3h2.4v2.4h-2.4zM110.0,1024.9h2.4v2.4h-2.4zM170.0,1028.5h2.4v2.4h-2.4zM390.3,838.3h2.4v2.4h-2.4zM337.4,872.4h2.4v2.4h-2.4zM237.1,1001.3h2.4v2.4h-2.4zM286.6,953.5h2.4v2.4h-2.4zM375.9,1113.9h2.4v2.4h-2.4zM127.9,854.4h2.4v2.4h-2.4zM94.8,1085.4h2.4v2.4h-2.4zM332.4,998.6h2.4v2.4h-2.4zM139.5,806.6h2.4v2.4h-2.4zM116.6,822.0h2.4v2.4h-2.4zM386.7,1034.8h2.4v2.4h-2.4zM230.3,1025.1h2.4v2.4h-2.4zM160.1,923.1h2.4v2.4h-2.4zM332.4,1059.1h2.4v2.4h-2.4zM324.8,912.0h2.4v2.4h-2.4zM432.0,901.6h2.4v2.4h-2.4zM203.3,1036.8h2.4v2.4h-2.4zM140.1,832.1h2.4v2.4h-2.4zM270.5,927.9h2.4v2.4h-2.4zM284.4,1104.6h2.4v2.4h-2.4zM352.1,855.3h2.4v2.4h-2.4zM340.6,1103.2h2.4v2.4h-2.4zM128.4,1002.4h2.4v2.4h-2.4zM271.4,980.8h2.4v2.4h-2.4zM335.8,933.0h2.4v2.4h-2.4zM467.1,1035.6h2.4v2.4h-2.4zM284.1,1076.7h2.4v2.4h-2.4zM388.5,846.9h2.4v2.4h-2.4zM109.2,809.9h2.4v2.4h-2.4zM415.8,1066.5h2.4v2.4h-2.4zM420.5,1032.3h2.4v2.4h-2.4zM256.1,839.6h2.4v2.4h-2.4zM446.4,994.4h2.4v2.4h-2.4zM364.2,914.0h2.4v2.4h-2.4zM207.9,1024.6h2.4v2.4h-2.4zM251.4,1098.6h2.4v2.4h-2.4zM94.7,932.9h2.4v2.4h-2.4zM245.8,1105.4h2.4v2.4h-2.4zM347.7,1014.4h2.4v2.4h-2.4zM169.9,933.4h2.4v2.4h-2.4zM104.4,915.1h2.4v2.4h-2.4zM358.9,1013.5h2.4v2.4h-2.4zM322.8,949.1h2.4v2.4h-2.4zM153.0,917.1h2.4v2.4h-2.4zM227.3,1036.9h2.4v2.4h-2.4zM362.1,1047.9h2.4v2.4h-2.4zM113.6,1052.1h2.4v2.4h-2.4zM186.9,1048.3h2.4v2.4h-2.4zM235.0,815.5h2.4v2.4h-2.4zM80.4,833.5h2.4v2.4h-2.4zM269.9,1089.0h2.4v2.4h-2.4zM189.0,1036.1h2.4v2.4h-2.4zM280.7,974.3h2.4v2.4h-2.4zM158.3,829.9h2.4v2.4h-2.4zM195.1,953.9h2.4v2.4h-2.4zM306.9,1107.4h2.4v2.4h-2.4zM308.8,916.8h2.4v2.4h-2.4zM313.3,987.8h2.4v2.4h-2.4zM90.3,827.9h2.4v2.4h-2.4zM413.9,927.5h2.4v2.4h-2.4zM402.4,903.7h2.4v2.4h-2.4zM336.2,974.5h2.4v2.4h-2.4zM293.6,1095.0h2.4v2.4h-2.4zM81.6,937.1h2.4v2.4h-2.4zM111.2,1037.0h2.4v2.4h-2.4zM303.9,863.1h2.4v2.4h-2.4zM261.7,1113.8h2.4v2.4h-2.4zM348.7,873.2h2.4v2.4h-2.4zM361.9,983.1h2.4v2.4h-2.4zM94.7,1063.6h2.4v2.4h-2.4zM251.8,954.8h2.4v2.4h-2.4zM371.0,830.9h2.4v2.4h-2.4zM296.8,975.6h2.4v2.4h-2.4zM360.5,883.2h2.4v2.4h-2.4zM77.2,971.0h2.4v2.4h-2.4zM186.5,879.4h2.4v2.4h-2.4zM263.4,885.8h2.4v2.4h-2.4zM162.6,943.8h2.4v2.4h-2.4zM296.0,910.3h2.4v2.4h-2.4zM109.9,980.1h2.4v2.4h-2.4zM143.0,967.6h2.4v2.4h-2.4zM294.1,841.4h2.4v2.4h-2.4zM139.5,846.3h2.4v2.4h-2.4zM261.1,1050.3h2.4v2.4h-2.4zM164.5,1008.7h2.4v2.4h-2.4zM143.0,872.8h2.4v2.4h-2.4zM375.2,876.7h2.4v2.4h-2.4zM235.2,1116.7h2.4v2.4h-2.4zM74.5,958.7h2.4v2.4h-2.4zM95.1,1092.5h2.4v2.4h-2.4zM251.0,917.9h2.4v2.4h-2.4zM192.1,856.9h2.4v2.4h-2.4zM271.0,849.6h2.4v2.4h-2.4zM408.2,947.7h2.4v2.4h-2.4zM153.8,804.3h2.4v2.4h-2.4zM191.0,811.4h2.4v2.4h-2.4zM319.2,900.1h2.4v2.4h-2.4zM285.6,946.2h2.4v2.4h-2.4zM411.0,1082.0h2.4v2.4h-2.4zM273.0,1115.0h2.4v2.4h-2.4zM137.6,1030.9h2.4v2.4h-2.4zM438.9,963.6h2.4v2.4h-2.4zM69.7,957.9h2.4v2.4h-2.4zM326.2,1110.4h2.4v2.4h-2.4zM265.4,953.3h2.4v2.4h-2.4zM406.3,960.0h2.4v2.4h-2.4zM393.7,1056.0h2.4v2.4h-2.4zM395.7,895.7h2.4v2.4h-2.4zM94.9,1012.8h2.4v2.4h-2.4zM462.9,1078.6h2.4v2.4h-2.4zM464.0,998.6h2.4v2.4h-2.4zM266.3,921.8h2.4v2.4h-2.4zM347.5,964.1h2.4v2.4h-2.4zM344.2,1101.4h2.4v2.4h-2.4zM440.8,1091.5h2.4v2.4h-2.4zM379.4,905.3h2.4v2.4h-2.4zM367.6,878.4h2.4v2.4h-2.4zM301.9,875.7h2.4v2.4h-2.4zM97.1,814.8h2.4v2.4h-2.4zM235.2,929.0h2.4v2.4h-2.4zM259.0,1106.8h2.4v2.4h-2.4zM468.9,967.9h2.4v2.4h-2.4zM376.2,816.3h2.4v2.4h-2.4zM87.6,1026.8h2.4v2.4h-2.4zM264.1,987.3h2.4v2.4h-2.4zM463.4,836.6h2.4v2.4h-2.4zM338.1,1036.6h2.4v2.4h-2.4zM173.0,995.6h2.4v2.4h-2.4zM228.7,1118.0h2.4v2.4h-2.4zM398.3,1067.6h2.4v2.4h-2.4zM368.4,984.4h2.4v2.4h-2.4zM427.3,1011.6h2.4v2.4h-2.4zM392.2,933.2h2.4v2.4h-2.4zM401.2,920.4h2.4v2.4h-2.4zM219.2,1009.6h2.4v2.4h-2.4zM169.1,855.3h2.4v2.4h-2.4zM204.2,1080.9h2.4v2.4h-2.4zM464.8,869.9h2.4v2.4h-2.4zM159.8,915.3h2.4v2.4h-2.4zM414.8,818.2h2.4v2.4h-2.4zM77.4,1022.4h2.4v2.4h-2.4zM198.3,948.5h2.4v2.4h-2.4zM294.1,912.6h2.4v2.4h-2.4zM168.8,892.1h2.4v2.4h-2.4zM257.1,962.8h2.4v2.4h-2.4zM385.2,1085.4h2.4v2.4h-2.4zM388.3,997.8h2.4v2.4h-2.4zM404.0,822.0h2.4v2.4h-2.4zM74.4,845.7h2.4v2.4h-2.4zM306.3,985.5h2.4v2.4h-2.4zM109.6,1003.1h2.4v2.4h-2.4zM222.5,1063.2h2.4v2.4h-2.4zM457.3,875.3h2.4v2.4h-2.4zM143.8,874.4h2.4v2.4h-2.4zM337.5,1000.2h2.4v2.4h-2.4zM217.9,904.3h2.4v2.4h-2.4zM306.6,1092.5h2.4v2.4h-2.4zM295.6,874.9h2.4v2.4h-2.4zM399.9,845.6h2.4v2.4h-2.4zM84.0,834.2h2.4v2.4h-2.4zM145.6,834.1h2.4v2.4h-2.4zM325.8,852.1h2.4v2.4h-2.4zM283.7,918.9h2.4v2.4h-2.4zM296.8,961.6h2.4v2.4h-2.4zM425.0,987.2h2.4v2.4h-2.4zM286.3,1100.6h2.4v2.4h-2.4zM222.8,1026.0h2.4v2.4h-2.4zM365.9,1076.8h2.4v2.4h-2.4zM321.1,888.1h2.4v2.4h-2.4zM412.7,1115.8h2.4v2.4h-2.4zM215.6,1021.4h2.4v2.4h-2.4zM69.8,903.7h2.4v2.4h-2.4zM237.8,900.3h2.4v2.4h-2.4zM412.3,917.8h2.4v2.4h-2.4zM326.3,806.2h2.4v2.4h-2.4zM399.5,908.9h2.4v2.4h-2.4zM340.6,1111.9h2.4v2.4h-2.4zM73.3,951.4h2.4v2.4h-2.4zM262.7,840.6h2.4v2.4h-2.4zM116.4,828.8h2.4v2.4h-2.4zM215.2,916.8h2.4v2.4h-2.4zM459.8,993.0h2.4v2.4h-2.4zM219.1,930.2h2.4v2.4h-2.4zM328.6,911.5h2.4v2.4h-2.4zM169.7,899.5h2.4v2.4h-2.4zM389.2,1094.7h2.4v2.4h-2.4zM220.7,835.7h2.4v2.4h-2.4zM324.9,1085.2h2.4v2.4h-2.4zM171.1,1042.4h2.4v2.4h-2.4zM325.2,1056.4h2.4v2.4h-2.4zM250.8,990.8h2.4v2.4h-2.4zM83.0,933.6h2.4v2.4h-2.4zM417.1,982.9h2.4v2.4h-2.4zM399.9,827.7h2.4v2.4h-2.4zM69.5,974.4h2.4v2.4h-2.4zM423.5,820.3h2.4v2.4h-2.4zM234.6,965.6h2.4v2.4h-2.4zM111.8,842.3h2.4v2.4h-2.4zM464.8,1067.0h2.4v2.4h-2.4zM444.8,865.2h2.4v2.4h-2.4zM433.9,950.6h2.4v2.4h-2.4zM252.2,948.7h2.4v2.4h-2.4zM199.9,980.5h2.4v2.4h-2.4zM87.1,922.6h2.4v2.4h-2.4zM196.0,916.7h2.4v2.4h-2.4zM222.1,854.8h2.4v2.4h-2.4zM75.1,1044.4h2.4v2.4h-2.4zM359.3,1052.6h2.4v2.4h-2.4zM137.6,1117.3h2.4v2.4h-2.4zM391.7,837.0h2.4v2.4h-2.4zM273.5,814.3h2.4v2.4h-2.4zM167.4,1033.5h2.4v2.4h-2.4zM234.4,973.9h2.4v2.4h-2.4zM187.9,894.0h2.4v2.4h-2.4zM279.8,805.8h2.4v2.4h-2.4zM219.5,1103.4h2.4v2.4h-2.4zM265.1,1034.8h2.4v2.4h-2.4zM423.2,800.3h2.4v2.4h-2.4zM178.6,1014.5h2.4v2.4h-2.4zM327.0,993.2h2.4v2.4h-2.4zM406.1,811.4h2.4v2.4h-2.4zM199.0,1003.9h2.4v2.4h-2.4zM458.3,866.1h2.4v2.4h-2.4zM341.9,974.5h2.4v2.4h-2.4zM70.5,926.1h2.4v2.4h-2.4zM362.4,995.6h2.4v2.4h-2.4zM254.4,1086.9h2.4v2.4h-2.4zM73.5,902.9h2.4v2.4h-2.4zM466.9,925.2h2.4v2.4h-2.4zM346.0,829.3h2.4v2.4h-2.4zM238.6,1056.3h2.4v2.4h-2.4zM159.7,802.6h2.4v2.4h-2.4zM95.2,910.5h2.4v2.4h-2.4zM173.1,868.2h2.4v2.4h-2.4zM108.8,1103.5h2.4v2.4h-2.4zM234.8,967.3h2.4v2.4h-2.4zM184.2,1084.2h2.4v2.4h-2.4zM378.3,916.1h2.4v2.4h-2.4zM318.4,1105.7h2.4v2.4h-2.4zM162.5,869.2h2.4v2.4h-2.4zM216.6,1104.3h2.4v2.4h-2.4zM400.7,969.5h2.4v2.4h-2.4zM89.2,1024.1h2.4v2.4h-2.4zM422.0,911.9h2.4v2.4h-2.4zM316.1,1009.9h2.4v2.4h-2.4zM181.8,976.1h2.4v2.4h-2.4zM152.7,799.4h2.4v2.4h-2.4zM124.0,895.9h2.4v2.4h-2.4zM392.2,867.6h2.4v2.4h-2.4zM422.9,1095.4h2.4v2.4h-2.4zM451.0,960.9h2.4v2.4h-2.4zM297.5,929.4h2.4v2.4h-2.4zM252.9,818.3h2.4v2.4h-2.4zM100.8,934.8h2.4v2.4h-2.4zM290.9,849.4h2.4v2.4h-2.4zM322.6,813.5h2.4v2.4h-2.4zM185.1,1042.6h2.4v2.4h-2.4zM172.2,1006.3h2.4v2.4h-2.4zM125.9,1041.1h2.4v2.4h-2.4zM290.6,874.0h2.4v2.4h-2.4zM103.2,871.4h2.4v2.4h-2.4zM289.1,1045.4h2.4v2.4h-2.4zM318.1,921.8h2.4v2.4h-2.4zM135.7,962.7h2.4v2.4h-2.4zM135.3,1084.1h2.4v2.4h-2.4zM264.5,890.7h2.4v2.4h-2.4zM244.1,1018.2h2.4v2.4h-2.4zM449.9,1037.2h2.4v2.4h-2.4zM178.6,987.2h2.4v2.4h-2.4zM273.4,855.2h2.4v2.4h-2.4zM102.8,972.7h2.4v2.4h-2.4zM168.5,1049.2h2.4v2.4h-2.4zM120.5,961.4h2.4v2.4h-2.4zM438.6,1019.5h2.4v2.4h-2.4zM279.6,912.8h2.4v2.4h-2.4zM170.7,927.9h2.4v2.4h-2.4zM111.1,956.4h2.4v2.4h-2.4zM116.4,869.3h2.4v2.4h-2.4zM143.1,819.9h2.4v2.4h-2.4zM312.5,936.2h2.4v2.4h-2.4zM215.0,801.4h2.4v2.4h-2.4zM259.9,1104.3h2.4v2.4h-2.4zM140.5,960.4h2.4v2.4h-2.4zM185.0,1012.6h2.4v2.4h-2.4zM419.3,855.9h2.4v2.4h-2.4zM210.1,985.0h2.4v2.4h-2.4zM183.8,1087.4h2.4v2.4h-2.4zM131.4,922.1h2.4v2.4h-2.4zM203.2,914.5h2.4v2.4h-2.4zM452.3,942.6h2.4v2.4h-2.4z" fill="#969a60"/>
<path d="M75.0,968.1h2.6v2.6h-2.6zM145.3,875.9h2.6v2.6h-2.6zM453.2,1070.8h2.6v2.6h-2.6zM462.1,926.0h2.6v2.6h-2.6zM200.9,893.4h2.6v2.6h-2.6zM350.1,1108.0h2.6v2.6h-2.6zM196.9,1119.8h2.6v2.6h-2.6zM462.8,943.7h2.6v2.6h-2.6zM81.6,1079.1h2.6v2.6h-2.6zM164.2,843.4h2.6v2.6h-2.6zM80.4,1058.5h2.6v2.6h-2.6zM270.8,992.9h2.6v2.6h-2.6zM344.0,858.9h2.6v2.6h-2.6zM171.9,927.3h2.6v2.6h-2.6zM251.7,863.6h2.6v2.6h-2.6zM107.9,1079.8h2.6v2.6h-2.6zM422.2,888.6h2.6v2.6h-2.6zM303.2,1090.8h2.6v2.6h-2.6zM262.5,869.2h2.6v2.6h-2.6zM193.9,898.1h2.6v2.6h-2.6zM401.7,1008.6h2.6v2.6h-2.6zM295.2,945.5h2.6v2.6h-2.6zM201.9,930.7h2.6v2.6h-2.6zM288.7,822.6h2.6v2.6h-2.6zM270.6,925.7h2.6v2.6h-2.6zM189.0,902.6h2.6v2.6h-2.6zM212.0,986.5h2.6v2.6h-2.6zM428.7,1116.1h2.6v2.6h-2.6zM141.2,846.9h2.6v2.6h-2.6zM174.4,1055.1h2.6v2.6h-2.6zM155.8,1110.5h2.6v2.6h-2.6zM239.2,822.6h2.6v2.6h-2.6zM378.1,965.2h2.6v2.6h-2.6zM227.0,874.7h2.6v2.6h-2.6zM129.5,989.7h2.6v2.6h-2.6zM155.5,811.1h2.6v2.6h-2.6zM240.5,924.4h2.6v2.6h-2.6zM94.2,928.2h2.6v2.6h-2.6zM199.5,879.6h2.6v2.6h-2.6zM119.5,818.4h2.6v2.6h-2.6zM443.3,1116.4h2.6v2.6h-2.6zM355.0,836.1h2.6v2.6h-2.6zM117.2,904.3h2.6v2.6h-2.6zM117.3,902.2h2.6v2.6h-2.6zM215.7,881.6h2.6v2.6h-2.6zM209.5,936.7h2.6v2.6h-2.6zM181.1,1005.3h2.6v2.6h-2.6zM316.4,1088.4h2.6v2.6h-2.6zM337.0,936.7h2.6v2.6h-2.6zM429.1,1103.8h2.6v2.6h-2.6zM447.8,1086.5h2.6v2.6h-2.6zM455.5,931.1h2.6v2.6h-2.6zM87.5,932.0h2.6v2.6h-2.6zM88.9,1067.1h2.6v2.6h-2.6zM369.5,954.9h2.6v2.6h-2.6zM232.0,1109.1h2.6v2.6h-2.6zM91.8,1043.9h2.6v2.6h-2.6zM370.8,984.7h2.6v2.6h-2.6zM463.5,1093.2h2.6v2.6h-2.6zM379.9,881.7h2.6v2.6h-2.6zM93.6,1012.6h2.6v2.6h-2.6zM236.3,954.5h2.6v2.6h-2.6zM413.3,1099.1h2.6v2.6h-2.6zM452.8,805.7h2.6v2.6h-2.6zM203.6,909.6h2.6v2.6h-2.6zM385.9,971.9h2.6v2.6h-2.6zM178.5,1100.3h2.6v2.6h-2.6zM143.1,909.9h2.6v2.6h-2.6zM101.7,869.8h2.6v2.6h-2.6zM447.6,1112.9h2.6v2.6h-2.6zM374.8,927.0h2.6v2.6h-2.6zM255.5,856.8h2.6v2.6h-2.6zM278.5,955.1h2.6v2.6h-2.6zM451.8,1084.1h2.6v2.6h-2.6zM91.0,950.5h2.6v2.6h-2.6zM210.4,1042.4h2.6v2.6h-2.6zM212.7,971.0h2.6v2.6h-2.6zM302.9,828.7h2.6v2.6h-2.6zM77.9,894.9h2.6v2.6h-2.6zM125.3,863.0h2.6v2.6h-2.6zM436.9,1015.2h2.6v2.6h-2.6zM356.7,956.9h2.6v2.6h-2.6zM374.2,1030.6h2.6v2.6h-2.6zM221.8,825.9h2.6v2.6h-2.6zM146.5,906.1h2.6v2.6h-2.6zM352.4,1090.4h2.6v2.6h-2.6zM121.8,1049.4h2.6v2.6h-2.6zM205.1,798.4h2.6v2.6h-2.6zM466.5,1003.3h2.6v2.6h-2.6zM339.5,1109.7h2.6v2.6h-2.6zM80.9,850.0h2.6v2.6h-2.6zM212.3,1119.9h2.6v2.6h-2.6zM426.1,1039.2h2.6v2.6h-2.6zM152.6,1005.1h2.6v2.6h-2.6zM180.6,1032.8h2.6v2.6h-2.6zM145.8,836.6h2.6v2.6h-2.6zM386.7,992.2h2.6v2.6h-2.6zM282.7,985.3h2.6v2.6h-2.6zM446.9,1067.7h2.6v2.6h-2.6zM307.6,1061.9h2.6v2.6h-2.6zM160.2,818.3h2.6v2.6h-2.6zM295.6,891.7h2.6v2.6h-2.6zM220.5,884.9h2.6v2.6h-2.6zM80.8,952.8h2.6v2.6h-2.6zM397.5,1074.3h2.6v2.6h-2.6zM466.7,898.6h2.6v2.6h-2.6zM404.1,1067.8h2.6v2.6h-2.6zM216.4,1003.9h2.6v2.6h-2.6zM105.0,985.3h2.6v2.6h-2.6zM356.6,967.7h2.6v2.6h-2.6zM80.2,1023.4h2.6v2.6h-2.6zM462.7,987.7h2.6v2.6h-2.6zM95.9,893.1h2.6v2.6h-2.6zM347.3,932.2h2.6v2.6h-2.6zM306.0,881.5h2.6v2.6h-2.6zM151.8,863.9h2.6v2.6h-2.6zM357.9,870.5h2.6v2.6h-2.6zM150.4,860.3h2.6v2.6h-2.6zM465.1,803.0h2.6v2.6h-2.6zM397.2,886.7h2.6v2.6h-2.6zM76.9,851.2h2.6v2.6h-2.6zM327.8,831.2h2.6v2.6h-2.6zM170.5,836.1h2.6v2.6h-2.6zM234.7,988.9h2.6v2.6h-2.6zM72.0,1040.8h2.6v2.6h-2.6z" fill="#dadd98"/>
</g>
<g filter="url(#sb)">
<path d="M520.8,825.3h2.2v2.2h-2.2zM544.2,823.3h2.2v2.2h-2.2zM598.0,823.8h2.2v2.2h-2.2zM578.0,798.9h2.2v2.2h-2.2zM563.4,846.1h2.2v2.2h-2.2zM608.5,825.8h2.2v2.2h-2.2zM591.0,820.5h2.2v2.2h-2.2zM612.3,847.5h2.2v2.2h-2.2zM637.0,846.4h2.2v2.2h-2.2zM643.7,802.9h2.2v2.2h-2.2zM640.3,818.8h2.2v2.2h-2.2zM634.4,819.8h2.2v2.2h-2.2zM613.2,810.1h2.2v2.2h-2.2zM618.6,822.3h2.2v2.2h-2.2zM691.0,835.7h2.2v2.2h-2.2zM698.0,798.8h2.2v2.2h-2.2zM674.5,826.5h2.2v2.2h-2.2zM703.2,823.9h2.2v2.2h-2.2zM715.9,831.8h2.2v2.2h-2.2zM742.0,823.0h2.2v2.2h-2.2zM742.0,840.7h2.2v2.2h-2.2zM764.8,831.1h2.2v2.2h-2.2zM775.0,847.0h2.2v2.2h-2.2zM785.0,845.7h2.2v2.2h-2.2zM785.5,836.3h2.2v2.2h-2.2zM777.8,801.1h2.2v2.2h-2.2zM799.0,806.6h2.2v2.2h-2.2zM764.6,819.0h2.2v2.2h-2.2zM854.3,841.3h2.2v2.2h-2.2zM821.9,814.1h2.2v2.2h-2.2zM815.2,805.9h2.2v2.2h-2.2zM905.9,848.0h2.2v2.2h-2.2zM891.8,801.9h2.2v2.2h-2.2zM895.9,840.7h2.2v2.2h-2.2zM888.8,848.3h2.2v2.2h-2.2zM886.0,830.6h2.2v2.2h-2.2zM510.4,882.8h2.2v2.2h-2.2zM555.8,880.5h2.2v2.2h-2.2zM546.0,860.3h2.2v2.2h-2.2zM577.4,889.7h2.2v2.2h-2.2zM575.4,854.4h2.2v2.2h-2.2zM596.5,895.0h2.2v2.2h-2.2zM562.8,866.1h2.2v2.2h-2.2zM561.1,883.0h2.2v2.2h-2.2zM586.2,855.2h2.2v2.2h-2.2zM640.1,864.9h2.2v2.2h-2.2zM620.4,882.4h2.2v2.2h-2.2zM649.5,879.1h2.2v2.2h-2.2zM619.1,856.4h2.2v2.2h-2.2zM680.1,899.4h2.2v2.2h-2.2zM663.8,857.3h2.2v2.2h-2.2zM675.8,851.9h2.2v2.2h-2.2zM679.8,891.8h2.2v2.2h-2.2zM708.5,855.7h2.2v2.2h-2.2zM743.6,852.8h2.2v2.2h-2.2zM715.8,856.0h2.2v2.2h-2.2zM757.9,899.1h2.2v2.2h-2.2zM716.5,891.9h2.2v2.2h-2.2zM800.9,884.5h2.2v2.2h-2.2zM783.8,866.5h2.2v2.2h-2.2zM779.8,858.8h2.2v2.2h-2.2zM780.9,882.7h2.2v2.2h-2.2zM785.1,852.3h2.2v2.2h-2.2zM766.2,858.7h2.2v2.2h-2.2zM789.0,862.6h2.2v2.2h-2.2zM817.0,875.2h2.2v2.2h-2.2zM822.6,860.8h2.2v2.2h-2.2zM847.4,896.7h2.2v2.2h-2.2zM538.3,937.5h2.2v2.2h-2.2zM513.1,908.5h2.2v2.2h-2.2zM513.2,951.1h2.2v2.2h-2.2zM516.1,955.7h2.2v2.2h-2.2zM560.6,928.8h2.2v2.2h-2.2zM571.0,953.6h2.2v2.2h-2.2zM580.2,911.4h2.2v2.2h-2.2zM572.0,931.4h2.2v2.2h-2.2zM588.9,952.8h2.2v2.2h-2.2zM593.5,944.0h2.2v2.2h-2.2zM604.5,936.4h2.2v2.2h-2.2zM586.6,933.3h2.2v2.2h-2.2zM625.1,915.4h2.2v2.2h-2.2zM625.7,942.6h2.2v2.2h-2.2zM610.6,916.4h2.2v2.2h-2.2zM629.8,940.9h2.2v2.2h-2.2zM615.9,941.4h2.2v2.2h-2.2zM615.0,937.5h2.2v2.2h-2.2zM640.4,931.8h2.2v2.2h-2.2zM658.7,950.8h2.2v2.2h-2.2zM700.9,940.2h2.2v2.2h-2.2zM672.6,948.1h2.2v2.2h-2.2zM672.3,930.7h2.2v2.2h-2.2zM696.5,936.0h2.2v2.2h-2.2zM706.3,910.2h2.2v2.2h-2.2zM675.5,937.4h2.2v2.2h-2.2zM675.6,921.4h2.2v2.2h-2.2zM742.5,944.0h2.2v2.2h-2.2zM720.4,919.0h2.2v2.2h-2.2zM754.6,945.8h2.2v2.2h-2.2zM728.7,931.1h2.2v2.2h-2.2zM765.7,909.8h2.2v2.2h-2.2zM785.2,946.5h2.2v2.2h-2.2zM794.2,955.1h2.2v2.2h-2.2zM807.6,912.1h2.2v2.2h-2.2zM780.5,949.5h2.2v2.2h-2.2zM792.7,953.1h2.2v2.2h-2.2zM840.8,917.2h2.2v2.2h-2.2zM830.8,905.9h2.2v2.2h-2.2zM819.7,919.5h2.2v2.2h-2.2zM816.3,945.7h2.2v2.2h-2.2zM886.2,933.8h2.2v2.2h-2.2zM519.3,969.5h2.2v2.2h-2.2zM549.8,982.3h2.2v2.2h-2.2zM576.2,969.8h2.2v2.2h-2.2zM568.6,1002.9h2.2v2.2h-2.2zM625.8,985.9h2.2v2.2h-2.2zM662.6,977.0h2.2v2.2h-2.2zM760.5,996.6h2.2v2.2h-2.2zM729.3,1010.3h2.2v2.2h-2.2zM738.5,984.8h2.2v2.2h-2.2zM722.1,1009.4h2.2v2.2h-2.2zM808.4,975.0h2.2v2.2h-2.2zM789.1,984.9h2.2v2.2h-2.2zM762.9,1009.9h2.2v2.2h-2.2zM831.9,988.4h2.2v2.2h-2.2zM850.1,963.6h2.2v2.2h-2.2zM840.1,968.5h2.2v2.2h-2.2zM856.6,966.3h2.2v2.2h-2.2zM860.2,978.0h2.2v2.2h-2.2zM879.5,1001.9h2.2v2.2h-2.2zM910.3,963.0h2.2v2.2h-2.2zM552.6,1054.1h2.2v2.2h-2.2zM525.2,1036.3h2.2v2.2h-2.2zM513.6,1051.1h2.2v2.2h-2.2zM531.6,1063.0h2.2v2.2h-2.2zM523.2,1039.4h2.2v2.2h-2.2zM557.3,1060.8h2.2v2.2h-2.2zM556.6,1051.6h2.2v2.2h-2.2zM513.4,1034.7h2.2v2.2h-2.2zM571.6,1017.8h2.2v2.2h-2.2zM576.2,1062.8h2.2v2.2h-2.2zM593.3,1045.3h2.2v2.2h-2.2zM584.4,1034.8h2.2v2.2h-2.2zM613.2,1025.5h2.2v2.2h-2.2zM625.9,1030.8h2.2v2.2h-2.2zM747.6,1032.0h2.2v2.2h-2.2zM717.0,1030.0h2.2v2.2h-2.2zM717.0,1017.4h2.2v2.2h-2.2zM805.7,1053.6h2.2v2.2h-2.2zM781.3,1064.1h2.2v2.2h-2.2zM793.6,1047.6h2.2v2.2h-2.2zM767.6,1032.7h2.2v2.2h-2.2zM798.4,1044.7h2.2v2.2h-2.2zM764.2,1032.2h2.2v2.2h-2.2zM831.8,1028.0h2.2v2.2h-2.2zM842.3,1049.7h2.2v2.2h-2.2zM827.7,1025.3h2.2v2.2h-2.2zM817.8,1019.6h2.2v2.2h-2.2zM861.8,1054.1h2.2v2.2h-2.2zM849.7,1024.2h2.2v2.2h-2.2zM870.2,1062.9h2.2v2.2h-2.2zM540.6,1117.6h2.2v2.2h-2.2zM550.2,1084.0h2.2v2.2h-2.2zM554.7,1114.3h2.2v2.2h-2.2zM546.2,1108.4h2.2v2.2h-2.2zM529.6,1097.3h2.2v2.2h-2.2zM536.9,1068.8h2.2v2.2h-2.2zM551.5,1104.4h2.2v2.2h-2.2zM554.7,1090.0h2.2v2.2h-2.2zM519.6,1101.7h2.2v2.2h-2.2zM573.7,1088.4h2.2v2.2h-2.2zM595.7,1119.0h2.2v2.2h-2.2zM585.6,1106.0h2.2v2.2h-2.2zM585.1,1102.8h2.2v2.2h-2.2zM618.1,1101.7h2.2v2.2h-2.2zM695.4,1096.1h2.2v2.2h-2.2zM753.3,1084.1h2.2v2.2h-2.2zM803.7,1093.2h2.2v2.2h-2.2zM781.2,1087.6h2.2v2.2h-2.2zM804.6,1080.0h2.2v2.2h-2.2zM780.2,1107.3h2.2v2.2h-2.2zM766.2,1091.9h2.2v2.2h-2.2zM785.1,1096.4h2.2v2.2h-2.2zM782.4,1094.5h2.2v2.2h-2.2zM805.6,1117.7h2.2v2.2h-2.2zM831.5,1106.2h2.2v2.2h-2.2zM859.9,1093.6h2.2v2.2h-2.2zM841.2,1089.8h2.2v2.2h-2.2zM826.0,1117.5h2.2v2.2h-2.2zM835.4,1117.7h2.2v2.2h-2.2zM886.2,1092.4h2.2v2.2h-2.2zM888.3,1088.8h2.2v2.2h-2.2zM893.1,1070.0h2.2v2.2h-2.2zM876.4,1097.8h2.2v2.2h-2.2zM901.3,1117.7h2.2v2.2h-2.2zM497.0,1043.3h2.2v2.2h-2.2zM494.1,1049.2h2.2v2.2h-2.2zM498.6,1076.9h2.2v2.2h-2.2zM493.6,1054.2h2.2v2.2h-2.2z" fill="#3c3c3c"/>
<path d="M524.1,847.3h2.4v2.4h-2.4zM554.9,801.6h2.4v2.4h-2.4zM517.6,813.3h2.4v2.4h-2.4zM534.6,836.9h2.4v2.4h-2.4zM515.8,823.0h2.4v2.4h-2.4zM580.8,825.6h2.4v2.4h-2.4zM589.1,822.3h2.4v2.4h-2.4zM596.9,822.4h2.4v2.4h-2.4zM648.6,824.6h2.4v2.4h-2.4zM627.2,831.6h2.4v2.4h-2.4zM708.5,817.7h2.4v2.4h-2.4zM732.1,806.8h2.4v2.4h-2.4zM720.8,847.0h2.4v2.4h-2.4zM736.8,821.4h2.4v2.4h-2.4zM725.0,807.2h2.4v2.4h-2.4zM537.6,900.4h2.4v2.4h-2.4zM552.7,897.2h2.4v2.4h-2.4zM581.1,862.7h2.4v2.4h-2.4zM574.2,894.3h2.4v2.4h-2.4zM585.2,867.3h2.4v2.4h-2.4zM618.1,876.6h2.4v2.4h-2.4zM639.0,886.5h2.4v2.4h-2.4zM658.6,892.7h2.4v2.4h-2.4zM687.2,869.2h2.4v2.4h-2.4zM767.8,899.5h2.4v2.4h-2.4zM791.8,881.9h2.4v2.4h-2.4zM766.4,873.5h2.4v2.4h-2.4zM808.2,883.8h2.4v2.4h-2.4zM854.5,874.8h2.4v2.4h-2.4zM858.0,863.0h2.4v2.4h-2.4zM844.7,858.9h2.4v2.4h-2.4zM905.9,862.6h2.4v2.4h-2.4zM536.0,917.7h2.4v2.4h-2.4zM509.3,925.4h2.4v2.4h-2.4zM574.8,909.0h2.4v2.4h-2.4zM584.1,947.2h2.4v2.4h-2.4zM596.5,945.9h2.4v2.4h-2.4zM595.8,923.8h2.4v2.4h-2.4zM709.9,909.2h2.4v2.4h-2.4zM737.0,956.5h2.4v2.4h-2.4zM809.2,913.3h2.4v2.4h-2.4zM794.9,908.2h2.4v2.4h-2.4zM767.2,921.9h2.4v2.4h-2.4zM839.4,910.4h2.4v2.4h-2.4zM554.2,976.9h2.4v2.4h-2.4zM519.2,997.9h2.4v2.4h-2.4zM532.0,989.7h2.4v2.4h-2.4zM581.9,972.6h2.4v2.4h-2.4zM561.7,971.9h2.4v2.4h-2.4zM603.0,966.4h2.4v2.4h-2.4zM754.6,970.4h2.4v2.4h-2.4zM733.4,971.0h2.4v2.4h-2.4zM760.7,1002.0h2.4v2.4h-2.4zM807.5,1002.9h2.4v2.4h-2.4zM804.3,968.6h2.4v2.4h-2.4zM778.4,961.9h2.4v2.4h-2.4zM786.1,962.7h2.4v2.4h-2.4zM833.3,1011.0h2.4v2.4h-2.4zM899.4,989.0h2.4v2.4h-2.4zM552.1,1023.6h2.4v2.4h-2.4zM564.9,1060.4h2.4v2.4h-2.4zM688.3,1050.6h2.4v2.4h-2.4zM738.3,1058.5h2.4v2.4h-2.4zM722.2,1045.8h2.4v2.4h-2.4zM805.4,1057.6h2.4v2.4h-2.4zM794.0,1046.3h2.4v2.4h-2.4zM767.2,1030.6h2.4v2.4h-2.4zM807.2,1013.5h2.4v2.4h-2.4zM785.6,1055.1h2.4v2.4h-2.4zM780.0,1055.0h2.4v2.4h-2.4zM843.9,1033.8h2.4v2.4h-2.4zM869.9,1019.8h2.4v2.4h-2.4zM908.8,1020.6h2.4v2.4h-2.4zM907.1,1014.3h2.4v2.4h-2.4zM554.5,1106.8h2.4v2.4h-2.4zM509.6,1084.1h2.4v2.4h-2.4zM645.0,1109.9h2.4v2.4h-2.4zM652.0,1106.9h2.4v2.4h-2.4zM618.3,1114.7h2.4v2.4h-2.4zM682.9,1088.9h2.4v2.4h-2.4zM747.3,1116.9h2.4v2.4h-2.4zM764.5,1076.0h2.4v2.4h-2.4zM795.9,1077.5h2.4v2.4h-2.4zM776.0,1117.0h2.4v2.4h-2.4zM846.9,1100.3h2.4v2.4h-2.4zM851.2,1078.2h2.4v2.4h-2.4zM882.4,1071.9h2.4v2.4h-2.4zM890.2,1076.1h2.4v2.4h-2.4zM897.4,1094.3h2.4v2.4h-2.4zM500.5,1036.3h2.4v2.4h-2.4z" fill="#8e8e8e"/>
<path d="M541.9,802.3h2.6v2.6h-2.6zM523.0,803.4h2.6v2.6h-2.6zM513.6,835.4h2.6v2.6h-2.6zM578.7,840.5h2.6v2.6h-2.6zM561.8,812.8h2.6v2.6h-2.6zM629.6,797.6h2.6v2.6h-2.6zM750.7,824.3h2.6v2.6h-2.6zM799.2,828.7h2.6v2.6h-2.6zM793.1,830.6h2.6v2.6h-2.6zM780.5,835.6h2.6v2.6h-2.6zM844.2,809.5h2.6v2.6h-2.6zM823.6,836.5h2.6v2.6h-2.6zM850.7,811.4h2.6v2.6h-2.6zM560.5,875.0h2.6v2.6h-2.6zM623.5,884.1h2.6v2.6h-2.6zM728.5,886.7h2.6v2.6h-2.6zM771.1,858.9h2.6v2.6h-2.6zM765.1,891.0h2.6v2.6h-2.6zM777.9,888.0h2.6v2.6h-2.6zM827.7,884.2h2.6v2.6h-2.6zM843.0,863.9h2.6v2.6h-2.6zM750.6,956.3h2.6v2.6h-2.6zM747.4,920.1h2.6v2.6h-2.6zM727.7,913.2h2.6v2.6h-2.6zM745.4,947.9h2.6v2.6h-2.6zM738.1,947.7h2.6v2.6h-2.6zM791.3,943.2h2.6v2.6h-2.6zM779.0,914.4h2.6v2.6h-2.6zM769.4,928.3h2.6v2.6h-2.6zM819.2,937.8h2.6v2.6h-2.6zM529.0,997.2h2.6v2.6h-2.6zM651.2,1004.2h2.6v2.6h-2.6zM661.6,977.7h2.6v2.6h-2.6zM720.5,1003.6h2.6v2.6h-2.6zM743.0,971.3h2.6v2.6h-2.6zM760.0,991.4h2.6v2.6h-2.6zM798.8,993.9h2.6v2.6h-2.6zM800.4,974.8h2.6v2.6h-2.6zM783.6,989.6h2.6v2.6h-2.6zM543.4,1024.8h2.6v2.6h-2.6zM580.7,1021.7h2.6v2.6h-2.6zM675.7,1053.0h2.6v2.6h-2.6zM741.8,1037.6h2.6v2.6h-2.6zM814.4,1040.5h2.6v2.6h-2.6zM887.4,1024.8h2.6v2.6h-2.6zM543.2,1112.7h2.6v2.6h-2.6zM591.4,1114.8h2.6v2.6h-2.6zM600.3,1075.7h2.6v2.6h-2.6zM701.9,1116.7h2.6v2.6h-2.6zM713.7,1113.7h2.6v2.6h-2.6zM740.8,1089.0h2.6v2.6h-2.6zM802.5,1068.7h2.6v2.6h-2.6zM855.4,1093.7h2.6v2.6h-2.6zM497.8,1068.3h2.6v2.6h-2.6zM496.1,1116.2h2.6v2.6h-2.6z" fill="#e6e6e6"/>
</g>
<rect x="69.7" y="1137.9" width="108.2" height="16.2" fill="#fff" stroke="#222" stroke-width="2"/>
<rect x="511.2" y="1138.4" width="109.4" height="16.4" fill="#fff" stroke="#222" stroke-width="2"/>
<text transform="translate(192.20,1153.00) scale(1.0066,1.0000)" font-family='"Liberation Sans", sans-serif' font-size="32.4" font-weight="normal" fill="#2b2b2b"  stroke="#2b2b2b" stroke-width="0.45">50</text>
<text transform="translate(244.50,1153.00) scale(0.9259,1.0000)" font-family='"Liberation Sans", sans-serif' font-size="32.4" font-weight="normal" fill="#2b2b2b"  stroke="#2b2b2b" stroke-width="0.45">µm</text>
<text transform="translate(635.60,1153.00) scale(1.0066,1.0000)" font-family='"Liberation Sans", sans-serif' font-size="32.4" font-weight="normal" fill="#2b2b2b"  stroke="#2b2b2b" stroke-width="0.45">50</text>
<text transform="translate(687.90,1153.00) scale(0.9259,1.0000)" font-family='"Liberation Sans", sans-serif' font-size="32.4" font-weight="normal" fill="#2b2b2b"  stroke="#2b2b2b" stroke-width="0.45">µm</text>
<text transform="translate(389.80,1157.80) scale(0.9059,1.0000)" font-family='"Liberation Sans", sans-serif' font-size="32.6" font-weight="normal" fill="#2b2b2b"  stroke="#2b2b2b" stroke-width="0.45">Cu</text>
<text transform="translate(443.80,1157.80) scale(0.7980,1.0000)" font-family='"Liberation Sans", sans-serif' font-size="32.6" font-weight="normal" fill="#2b2b2b"  stroke="#2b2b2b" stroke-width="0.45">K</text>
<text transform="translate(834.40,1158.30) scale(0.9616,1.0000)" font-family='"Liberation Sans", sans-serif' font-size="32.6" font-weight="normal" fill="#2b2b2b"  stroke="#2b2b2b" stroke-width="0.45">Ag</text>
<text transform="translate(891.10,1158.30) scale(0.7296,1.0000)" font-family='"Liberation Sans", sans-serif' font-size="32.6" font-weight="normal" fill="#2b2b2b"  stroke="#2b2b2b" stroke-width="0.45">L</text>
<line x1="213.7" y1="1218.1" x2="213.7" y2="1771.4" stroke="#bdbdbd" stroke-width="1.3"/>
<line x1="294.2" y1="1218.1" x2="294.2" y2="1771.4" stroke="#bdbdbd" stroke-width="1.3"/>
<line x1="374.8" y1="1218.1" x2="374.8" y2="1771.4" stroke="#bdbdbd" stroke-width="1.3"/>
<line x1="455.4" y1="1218.1" x2="455.4" y2="1771.4" stroke="#bdbdbd" stroke-width="1.3"/>
<line x1="535.9" y1="1218.1" x2="535.9" y2="1771.4" stroke="#bdbdbd" stroke-width="1.3"/>
<line x1="616.5" y1="1218.1" x2="616.5" y2="1771.4" stroke="#bdbdbd" stroke-width="1.3"/>
<line x1="697.1" y1="1218.1" x2="697.1" y2="1771.4" stroke="#bdbdbd" stroke-width="1.3"/>
<line x1="777.7" y1="1218.1" x2="777.7" y2="1771.4" stroke="#bdbdbd" stroke-width="1.3"/>
<line x1="858.2" y1="1218.1" x2="858.2" y2="1771.4" stroke="#bdbdbd" stroke-width="1.3"/>
<line x1="133.1" y1="1715.3" x2="938.8" y2="1715.3" stroke="#bdbdbd" stroke-width="1.3"/>
<line x1="133.1" y1="1659.2" x2="938.8" y2="1659.2" stroke="#bdbdbd" stroke-width="1.3"/>
<line x1="133.1" y1="1603.1" x2="938.8" y2="1603.1" stroke="#bdbdbd" stroke-width="1.3"/>
<line x1="133.1" y1="1547.0" x2="938.8" y2="1547.0" stroke="#bdbdbd" stroke-width="1.3"/>
<line x1="133.1" y1="1490.9" x2="938.8" y2="1490.9" stroke="#bdbdbd" stroke-width="1.3"/>
<line x1="133.1" y1="1434.8" x2="938.8" y2="1434.8" stroke="#bdbdbd" stroke-width="1.3"/>
<line x1="133.1" y1="1378.7" x2="938.8" y2="1378.7" stroke="#bdbdbd" stroke-width="1.3"/>
<line x1="133.1" y1="1322.6" x2="938.8" y2="1322.6" stroke="#bdbdbd" stroke-width="1.3"/>
<line x1="133.1" y1="1266.5" x2="938.8" y2="1266.5" stroke="#bdbdbd" stroke-width="1.3"/>
<path d="M133.1,1772.2L133.2,1765.9H134.0L134.0,1764.7H134.8L134.8,1544.3H135.6L135.6,1544.7H136.4L136.4,1547.6H137.2L137.2,1730.7H138.0L138.0,1728.1H138.8L138.8,1729.4H139.6L139.6,1762.4H140.4L140.4,1763.2H141.2L141.2,1762.8H142.0L142.0,1762.9H142.8L142.8,1765.3H143.6L143.6,1761.4H144.4L144.4,1761.7H145.2L145.2,1761.5H146.0L146.0,1764.5H146.8L146.8,1764.4H147.6L147.6,1762.9H148.4L148.4,1762.1H149.2L149.2,1760.6H150.0L150.0,1761.0H150.8L150.8,1759.8H151.6L151.6,1761.5H152.4L152.4,1759.7H153.2L153.2,1761.8H154.0L154.0,1758.9H154.8L154.8,1746.2H155.6L155.6,1744.3H156.4L156.4,1746.2H157.2L157.2,1755.8H158.0L158.0,1759.7H158.8L158.8,1759.3H159.6L159.6,1757.4H160.4L160.4,1753.7H161.2L161.2,1751.8H162.0L162.0,1750.4H162.8L162.8,1747.7H163.6L163.6,1743.7H164.4L164.4,1737.5H165.2L165.2,1737.8H166.0L166.0,1732.8H166.8L166.8,1729.0H167.6L167.6,1728.5H168.4L168.4,1718.0H169.2L169.2,1701.4H170.0L170.0,1686.3H170.8L170.8,1642.0H171.6L171.6,1584.1H172.4L172.4,1516.5H173.2L173.2,1435.7H174.0L174.0,1379.1H174.8L174.8,1359.2H175.6L175.6,1356.3H176.4L176.4,1405.9H177.2L177.2,1476.4H178.0L178.0,1551.7H178.8L178.8,1624.3H179.6L179.6,1676.0H180.4L180.4,1713.0H181.2L181.2,1728.6H182.0L182.0,1742.1H182.8L182.8,1747.9H183.6L183.6,1753.7H184.4L184.4,1755.3H185.2L185.2,1756.0H186.0L186.0,1753.5H186.8L186.8,1760.5H187.6L187.6,1759.6H188.4L188.4,1756.2H189.2L189.2,1753.4H190.0L190.0,1754.3H190.8L190.8,1758.3H191.6L191.6,1758.5H192.4L192.4,1751.3H193.2L193.2,1752.5H194.0L194.0,1752.4H194.8L194.8,1747.5H195.6L195.6,1746.5H196.4L196.4,1747.4H197.2L197.2,1747.1H198.0L198.0,1746.9H198.8L198.8,1745.6H199.6L199.6,1747.5H200.4L200.4,1748.1H201.2L201.2,1748.0H202.0L202.0,1749.6H202.8L202.8,1740.8H203.6L203.6,1732.5H204.4L204.4,1719.4H205.2L205.2,1707.3H206.0L206.0,1684.8H206.8L206.8,1665.1H207.6L207.6,1667.2H208.4L208.4,1666.5H209.2L209.2,1676.1H210.0L210.0,1699.0H210.8L210.8,1704.9H211.6L211.6,1712.7H212.4L212.4,1708.8H213.2L213.2,1691.5H214.0L214.0,1666.4H214.8L214.8,1640.8H215.6L215.6,1612.6H216.4L216.4,1604.6H217.2L217.2,1601.9H218.0L218.0,1608.5H218.8L218.8,1635.3H219.6L219.6,1666.3H220.4L220.4,1688.4H221.2L221.2,1710.7H222.0L222.0,1732.0H222.8L222.8,1744.6H223.6L223.6,1749.5H224.4L224.4,1753.6H225.2L225.2,1756.2H226.0L226.0,1754.6H226.8L226.8,1760.1H227.6L227.6,1757.0H228.4L228.4,1762.0H229.2L229.2,1761.8H230.0L230.0,1760.1H230.8L230.8,1759.8H231.6L231.6,1760.5H232.4L232.4,1761.6H233.2L233.2,1762.1H234.0L234.0,1762.3H234.8L234.8,1761.8H235.6L235.6,1763.0H236.4L236.4,1762.4H237.2L237.2,1762.0H238.0L238.0,1762.8H238.8L238.8,1761.8H239.6L239.6,1762.1H240.4L240.4,1760.0H241.2L241.2,1762.4H242.0L242.0,1763.4H242.8L242.8,1763.1H243.6L243.6,1762.2H244.4L244.4,1760.1H245.2L245.2,1760.9H246.0L246.0,1757.8H246.8L246.8,1752.2H247.6L247.6,1757.4H248.4L248.4,1748.7H249.2L249.2,1741.0H250.0L250.0,1734.7H250.8L250.8,1729.5H251.6L251.6,1726.7H252.4L252.4,1722.1H253.2L253.2,1722.9H254.0L254.0,1726.9H254.8L254.8,1725.2H255.6L255.6,1734.6H256.4L256.4,1741.8H257.2L257.2,1746.1H258.0L258.0,1750.7H258.8L258.8,1753.5H259.6L259.6,1760.6H260.4L260.4,1757.1H261.2L261.2,1754.3H262.0L262.0,1757.7H262.8L262.8,1753.9H263.6L263.6,1748.8H264.4L264.4,1744.8H265.2L265.2,1736.0H266.0L266.0,1730.6H266.8L266.8,1711.2H267.6L267.6,1688.4H268.4L268.4,1656.3H269.2L269.2,1620.2H270.0L270.0,1599.3H270.8L270.8,1549.3H271.6L271.6,1534.1H272.4L272.4,1508.1H273.2L273.2,1517.2H274.0L274.0,1521.6H274.8L274.8,1541.8H275.6L275.6,1580.7H276.4L276.4,1615.4H277.2L277.2,1648.3H278.0L278.0,1681.0H278.8L278.8,1706.0H279.6L279.6,1720.6H280.4L280.4,1734.6H281.2L281.2,1745.3H282.0L282.0,1744.0H282.8L282.8,1756.0H283.6L283.6,1754.0H284.4L284.4,1757.7H285.2L285.2,1758.1H286.0L286.0,1757.9H286.8L286.8,1759.4H287.6L287.6,1759.2H288.4L288.4,1763.0H289.2L289.2,1763.1H290.0L290.0,1759.8H290.8L290.8,1762.3H291.6L291.6,1762.2H292.4L292.4,1762.7H293.2L293.2,1757.7H294.0L294.0,1758.1H294.8L294.8,1756.2H295.6L295.6,1759.7H296.4L296.4,1757.2H297.2L297.2,1758.5H298.0L298.0,1754.0H298.8L298.8,1751.4H299.6L299.6,1755.5H300.4L300.4,1749.5H301.2L301.2,1749.8H302.0L302.0,1751.5H302.8L302.8,1754.9H303.6L303.6,1746.8H304.4L304.4,1749.8H305.2L305.2,1750.7H306.0L306.0,1748.4H306.8L306.8,1748.5H307.6L307.6,1746.3H308.4L308.4,1752.4H309.2L309.2,1748.2H310.0L310.0,1748.2H310.8L310.8,1749.2H311.6L311.6,1753.5H312.4L312.4,1755.6H313.2L313.2,1753.0H314.0L314.0,1755.8H314.8L314.8,1756.7H315.6L315.6,1755.3H316.4L316.4,1759.2H317.2L317.2,1763.4H318.0L318.0,1760.8H318.8L318.8,1763.8H319.6L319.6,1760.1H320.4L320.4,1761.4H321.2L321.2,1763.2H322.0L322.0,1762.6H322.8L322.8,1761.7H323.6L323.6,1763.0H324.4L324.4,1761.5H325.2L325.2,1763.6H326.0L326.0,1762.2H326.8L326.8,1761.7H327.6L327.6,1761.6H328.4L328.4,1764.8H329.2L329.2,1762.8H330.0L330.0,1766.5H330.8L330.8,1765.5H331.6L331.6,1766.7H332.4L332.4,1762.7H333.2L333.2,1765.7H334.0L334.0,1764.1H334.8L334.8,1764.4H335.6L335.6,1764.2H336.4L336.4,1764.9H337.2L337.2,1763.8H338.0L338.0,1761.6H338.8L338.8,1763.6H339.6L339.6,1762.3H340.4L340.4,1760.5H341.2L341.2,1760.7H342.0L342.0,1760.7H342.8L342.8,1757.5H343.6L343.6,1752.6H344.4L344.4,1757.3H345.2L345.2,1755.5H346.0L346.0,1753.6H346.8L346.8,1756.1H347.6L347.6,1759.6H348.4L348.4,1760.2H349.2L349.2,1762.6H350.0L350.0,1765.3H350.8L350.8,1766.2H351.6L351.6,1765.3H352.4L352.4,1763.4H353.2L353.2,1765.3H354.0L354.0,1765.8H354.8L354.8,1765.7H355.6L355.6,1766.6H356.4L356.4,1764.9H357.2L357.2,1766.2H358.0L358.0,1764.3H358.8L358.8,1767.7H359.6L359.6,1764.4H360.4L360.4,1765.6H361.2L361.2,1767.2H362.0L362.0,1763.9H362.8L362.8,1765.1H363.6L363.6,1767.5H364.4L364.4,1765.6H365.2L365.2,1763.9H366.0L366.0,1764.7H366.8L366.8,1762.7H367.6L367.6,1762.3H368.4L368.4,1762.0H369.2L369.2,1762.0H370.0L370.0,1760.1H370.8L370.8,1760.7H371.6L371.6,1760.8H372.4L372.4,1764.6H373.2L373.2,1759.9H374.0L374.0,1759.4H374.8L374.8,1762.1H375.6L375.6,1762.7H376.4L376.4,1759.4H377.2L377.2,1765.1H378.0L378.0,1762.1H378.8L378.8,1759.4H379.6L379.6,1764.1H380.4L380.4,1761.6H381.2L381.2,1759.4H382.0L382.0,1761.9H382.8L382.8,1760.3H383.6L383.6,1759.1H384.4L384.4,1761.4H385.2L385.2,1759.5H386.0L386.0,1758.5H386.8L386.8,1757.2H387.6L387.6,1758.5H388.4L388.4,1758.7H389.2L389.2,1760.0H390.0L390.0,1758.7H390.8L390.8,1756.0H391.6L391.6,1756.6H392.4L392.4,1757.1H393.2L393.2,1755.2H394.0L394.0,1744.9H394.8L394.8,1745.6H395.6L395.6,1742.1H396.4L396.4,1743.0H397.2L397.2,1732.3H398.0L398.0,1727.7H398.8L398.8,1720.9H399.6L399.6,1720.2H400.4L400.4,1719.3H401.2L401.2,1717.6H402.0L402.0,1724.3H402.8L402.8,1720.5H403.6L403.6,1726.0H404.4L404.4,1732.7H405.2L405.2,1734.0H406.0L406.0,1738.4H406.8L406.8,1748.2H407.6L407.6,1751.6H408.4L408.4,1752.9H409.2L409.2,1755.9H410.0L410.0,1759.1H410.8L410.8,1761.6H411.6L411.6,1757.8H412.4L412.4,1760.4H413.2L413.2,1764.3H414.0L414.0,1764.9H414.8L414.8,1760.8H415.6L415.6,1761.8H416.4L416.4,1760.3H417.2L417.2,1761.2H418.0L418.0,1762.9H418.8L418.8,1760.0H419.6L419.6,1762.9H420.4L420.4,1759.3H421.2L421.2,1757.0H422.0L422.0,1755.2H422.8L422.8,1757.5H423.6L423.6,1756.8H424.4L424.4,1756.7H425.2L425.2,1758.2H426.0L426.0,1759.3H426.8L426.8,1761.5H427.6L427.6,1763.6H428.4L428.4,1763.2H429.2L429.2,1765.0H430.0L430.0,1766.6H430.8L430.8,1766.7H431.6L431.6,1766.3H432.4L432.4,1766.5H433.2L433.2,1766.3H434.0L434.0,1766.5H434.8L434.8,1766.4H435.6L435.6,1766.7H436.4L436.4,1768.0H437.2L437.2,1766.2H438.0L438.0,1765.5H438.8L438.8,1766.2H439.6L439.6,1766.9H440.4L440.4,1766.2H441.2L441.2,1767.7H442.0L442.0,1768.7H442.8L442.8,1766.7H443.6L443.6,1767.7H444.4L444.4,1766.0H445.2L445.2,1767.9H446.0L446.0,1769.5H446.8L446.8,1767.9H447.6L447.6,1765.2H448.4L448.4,1767.2H449.2L449.2,1768.3H450.0L450.0,1767.6H450.8L450.8,1766.3H451.6L451.6,1766.4H452.4L452.4,1766.7H453.2L453.2,1765.4H454.0L454.0,1766.2H454.8L454.8,1766.9H455.6L455.6,1766.3H456.4L456.4,1765.2H457.2L457.2,1766.0H458.0L458.0,1765.9H458.8L458.8,1768.1H459.6L459.6,1767.1H460.4L460.4,1766.3H461.2L461.2,1767.3H462.0L462.0,1765.9H462.8L462.8,1766.4H463.6L463.6,1766.1H464.4L464.4,1767.3H465.2L465.2,1764.5H466.0L466.0,1765.8H466.8L466.8,1767.3H467.6L467.6,1767.0H468.4L468.4,1764.5H469.2L469.2,1767.5H470.0L470.0,1766.2H470.8L470.8,1766.1H471.6L471.6,1767.1H472.4L472.4,1768.3H473.2L473.2,1767.0H474.0L474.0,1766.8H474.8L474.8,1766.1H475.6L475.6,1766.4H476.4L476.4,1767.2H477.2L477.2,1766.4H478.0L478.0,1766.7H478.8L478.8,1767.0H479.6L479.6,1767.2H480.4L480.4,1767.5H481.2L481.2,1766.6H482.0L482.0,1768.3H482.8L482.8,1767.9H483.6L483.6,1767.3H484.4L484.4,1768.7H485.2L485.2,1767.7H486.0L486.0,1769.3H486.8L486.8,1768.0H487.6L487.6,1766.8H488.4L488.4,1766.8H489.2L489.2,1767.4H490.0L490.0,1767.6H490.8L490.8,1768.7H491.6L491.6,1765.6H492.4L492.4,1766.9H493.2L493.2,1766.3H494.0L494.0,1768.2H494.8L494.8,1767.6H495.6L495.6,1769.2H496.4L496.4,1766.6H497.2L497.2,1766.5H498.0L498.0,1769.3H498.8L498.8,1767.5H499.6L499.6,1766.8H500.4L500.4,1769.2H501.2L501.2,1769.2H502.0L502.0,1768.5H502.8L502.8,1768.1H503.6L503.6,1768.8H504.4L504.4,1767.4H505.2L505.2,1767.2H506.0L506.0,1766.9H506.8L506.8,1766.8H507.6L507.6,1766.0H508.4L508.4,1766.4H509.2L509.2,1768.8H510.0L510.0,1768.0H510.8L510.8,1768.5H511.6L511.6,1768.6H512.4L512.4,1767.6H513.2L513.2,1767.5H514.0L514.0,1767.1H514.8L514.8,1769.1H515.6L515.6,1768.7H516.4L516.4,1767.6H517.2L517.2,1767.7H518.0L518.0,1767.9H518.8L518.8,1767.6H519.6L519.6,1768.3H520.4L520.4,1766.9H521.2L521.2,1767.2H522.0L522.0,1767.7H522.8L522.8,1768.2H523.6L523.6,1767.8H524.4L524.4,1770.2H525.2L525.2,1768.5H526.0L526.0,1767.6H526.8L526.8,1769.0H527.6L527.6,1767.4H528.4L528.4,1767.5H529.2L529.2,1768.9H530.0L530.0,1767.9H530.8L530.8,1767.9H531.6L531.6,1767.2H532.4L532.4,1767.1H533.2L533.2,1767.7H534.0L534.0,1768.5H534.8L534.8,1767.8H535.6L535.6,1767.7H536.4L536.4,1767.0H537.2L537.2,1767.4H538.0L538.0,1768.4H538.8L538.8,1769.0H539.6L539.6,1768.0H540.4L540.4,1768.4H541.2L541.2,1768.7H542.0L542.0,1767.8H542.8L542.8,1768.2H543.6L543.6,1767.6H544.4L544.4,1767.2H545.2L545.2,1768.1H546.0L546.0,1765.5H546.8L546.8,1768.0H547.6L547.6,1766.7H548.4L548.4,1767.6H549.2L549.2,1766.7H550.0L550.0,1769.9H550.8L550.8,1768.4H551.6L551.6,1767.5H552.4L552.4,1767.2H553.2L553.2,1765.5H554.0L554.0,1767.4H554.8L554.8,1766.5H555.6L555.6,1767.0H556.4L556.4,1766.9H557.2L557.2,1767.3H558.0L558.0,1767.9H558.8L558.8,1767.3H559.6L559.6,1768.8H560.4L560.4,1766.6H561.2L561.2,1768.7H562.0L562.0,1767.5H562.8L562.8,1765.8H563.6L563.6,1768.0H564.4L564.4,1767.7H565.2L565.2,1766.7H566.0L566.0,1767.7H566.8L566.8,1768.5H567.6L567.6,1767.5H568.4L568.4,1767.2H569.2L569.2,1767.1H570.0L570.0,1768.5H570.8L570.8,1766.2H571.6L571.6,1766.2H572.4L572.4,1767.8H573.2L573.2,1767.5H574.0L574.0,1768.2H574.8L574.8,1766.5H575.6L575.6,1768.4H576.4L576.4,1767.2H577.2L577.2,1768.2H578.0L578.0,1768.4H578.8L578.8,1767.1H579.6L579.6,1766.6H580.4L580.4,1767.8H581.2L581.2,1768.4H582.0L582.0,1767.1H582.8L582.8,1767.9H583.6L583.6,1767.5H584.4L584.4,1766.4H585.2L585.2,1766.8H586.0L586.0,1768.3H586.8L586.8,1765.7H587.6L587.6,1767.8H588.4L588.4,1767.1H589.2L589.2,1768.4H590.0L590.0,1767.9H590.8L590.8,1769.4H591.6L591.6,1766.2H592.4L592.4,1766.6H593.2L593.2,1769.0H594.0L594.0,1769.2H594.8L594.8,1769.3H595.6L595.6,1766.7H596.4L596.4,1768.3H597.2L597.2,1767.9H598.0L598.0,1768.1H598.8L598.8,1768.0H599.6L599.6,1768.8H600.4L600.4,1767.8H601.2L601.2,1769.2H602.0L602.0,1767.9H602.8L602.8,1767.6H603.6L603.6,1767.4H604.4L604.4,1768.1H605.2L605.2,1768.7H606.0L606.0,1767.7H606.8L606.8,1768.3H607.6L607.6,1766.4H608.4L608.4,1767.1H609.2L609.2,1768.0H610.0L610.0,1768.3H610.8L610.8,1768.5H611.6L611.6,1768.7H612.4L612.4,1768.2H613.2L613.2,1767.6H614.0L614.0,1767.4H614.8L614.8,1767.3H615.6L615.6,1765.9H616.4L616.4,1768.5H617.2L617.2,1767.9H618.0L618.0,1765.3H618.8L618.8,1769.6H619.6L619.6,1768.4H620.4L620.4,1767.7H621.2L621.2,1767.7H622.0L622.0,1767.5H622.8L622.8,1768.1H623.6L623.6,1767.5H624.4L624.4,1767.8H625.2L625.2,1767.2H626.0L626.0,1769.6H626.8L626.8,1768.7H627.6L627.6,1767.9H628.4L628.4,1768.8H629.2L629.2,1768.8H630.0L630.0,1767.3H630.8L630.8,1768.5H631.6L631.6,1767.3H632.4L632.4,1767.2H633.2L633.2,1767.6H634.0L634.0,1767.4H634.8L634.8,1768.0H635.6L635.6,1769.2H636.4L636.4,1767.9H637.2L637.2,1767.5H638.0L638.0,1768.4H638.8L638.8,1768.0H639.6L639.6,1767.2H640.4L640.4,1768.7H641.2L641.2,1767.3H642.0L642.0,1766.2H642.8L642.8,1768.4H643.6L643.6,1767.8H644.4L644.4,1768.0H645.2L645.2,1766.5H646.0L646.0,1767.6H646.8L646.8,1767.1H647.6L647.6,1768.5H648.4L648.4,1767.9H649.2L649.2,1767.9H650.0L650.0,1769.5H650.8L650.8,1766.6H651.6L651.6,1767.1H652.4L652.4,1769.5H653.2L653.2,1767.2H654.0L654.0,1768.0H654.8L654.8,1767.5H655.6L655.6,1767.6H656.4L656.4,1769.3H657.2L657.2,1768.1H658.0L658.0,1766.5H658.8L658.8,1768.4H659.6L659.6,1768.8H660.4L660.4,1769.2H661.2L661.2,1769.0H662.0L662.0,1767.6H662.8L662.8,1766.4H663.6L663.6,1767.5H664.4L664.4,1767.7H665.2L665.2,1765.9H666.0L666.0,1768.4H666.8L666.8,1768.5H667.6L667.6,1767.4H668.4L668.4,1767.4H669.2L669.2,1768.8H670.0L670.0,1769.0H670.8L670.8,1767.7H671.6L671.6,1767.7H672.4L672.4,1769.1H673.2L673.2,1768.1H674.0L674.0,1768.4H674.8L674.8,1767.5H675.6L675.6,1768.0H676.4L676.4,1768.0H677.2L677.2,1768.3H678.0L678.0,1767.0H678.8L678.8,1766.7H679.6L679.6,1768.3H680.4L680.4,1767.2H681.2L681.2,1768.6H682.0L682.0,1767.9H682.8L682.8,1767.2H683.6L683.6,1766.6H684.4L684.4,1768.3H685.2L685.2,1768.0H686.0L686.0,1767.8H686.8L686.8,1769.3H687.6L687.6,1767.9H688.4L688.4,1768.6H689.2L689.2,1767.6H690.0L690.0,1769.0H690.8L690.8,1769.7H691.6L691.6,1767.9H692.4L692.4,1767.7H693.2L693.2,1768.4H694.0L694.0,1767.1H694.8L694.8,1768.2H695.6L695.6,1768.5H696.4L696.4,1767.5H697.2L697.2,1769.4H698.0L698.0,1768.6H698.8L698.8,1768.0H699.6L699.6,1767.2H700.4L700.4,1768.1H701.2L701.2,1767.7H702.0L702.0,1768.5H702.8L702.8,1767.7H703.6L703.6,1766.4H704.4L704.4,1768.6H705.2L705.2,1765.8H706.0L706.0,1768.5H706.8L706.8,1767.9H707.6L707.6,1767.8H708.4L708.4,1767.0H709.2L709.2,1769.1H710.0L710.0,1769.9H710.8L710.8,1767.4H711.6L711.6,1767.2H712.4L712.4,1767.4H713.2L713.2,1765.6H714.0L714.0,1767.8H714.8L714.8,1767.7H715.6L715.6,1767.1H716.4L716.4,1767.6H717.2L717.2,1766.4H718.0L718.0,1769.1H718.8L718.8,1768.3H719.6L719.6,1771.1H720.4L720.4,1767.2H721.2L721.2,1768.3H722.0L722.0,1767.1H722.8L722.8,1766.0H723.6L723.6,1768.0H724.4L724.4,1768.2H725.2L725.2,1768.4H726.0L726.0,1768.7H726.8L726.8,1768.5H727.6L727.6,1767.4H728.4L728.4,1767.9H729.2L729.2,1767.9H730.0L730.0,1768.1H730.8L730.8,1767.1H731.6L731.6,1767.5H732.4L732.4,1768.1H733.2L733.2,1767.4H734.0L734.0,1768.1H734.8L734.8,1769.0H735.6L735.6,1766.6H736.4L736.4,1767.5H737.2L737.2,1768.8H738.0L738.0,1767.0H738.8L738.8,1767.6H739.6L739.6,1769.4H740.4L740.4,1766.5H741.2L741.2,1767.6H742.0L742.0,1767.1H742.8L742.8,1767.7H743.6L743.6,1768.0H744.4L744.4,1769.3H745.2L745.2,1767.0H746.0L746.0,1767.8H746.8L746.8,1768.1H747.6L747.6,1767.5H748.4L748.4,1767.7H749.2L749.2,1767.2H750.0L750.0,1768.1H750.8L750.8,1767.7H751.6L751.6,1769.7H752.4L752.4,1768.0H753.2L753.2,1766.9H754.0L754.0,1766.2H754.8L754.8,1767.8H755.6L755.6,1767.5H756.4L756.4,1765.8H757.2L757.2,1767.6H758.0L758.0,1766.4H758.8L758.8,1765.4H759.6L759.6,1766.9H760.4L760.4,1765.6H761.2L761.2,1767.5H762.0L762.0,1766.4H762.8L762.8,1766.5H763.6L763.6,1766.1H764.4L764.4,1764.8H765.2L765.2,1763.0H766.0L766.0,1766.3H766.8L766.8,1765.8H767.6L767.6,1763.9H768.4L768.4,1765.3H769.2L769.2,1762.4H770.0L770.0,1761.3H770.8L770.8,1761.3H771.6L771.6,1758.6H772.4L772.4,1760.6H773.2L773.2,1754.4H774.0L774.0,1756.9H774.8L774.8,1753.0H775.6L775.6,1750.5H776.4L776.4,1747.7H777.2L777.2,1743.7H778.0L778.0,1743.1H778.8L778.8,1742.6H779.6L779.6,1740.1H780.4L780.4,1738.0H781.2L781.2,1740.9H782.0L782.0,1741.1H782.8L782.8,1740.9H783.6L783.6,1744.2H784.4L784.4,1748.6H785.2L785.2,1745.2H786.0L786.0,1746.2H786.8L786.8,1757.4H787.6L787.6,1755.5H788.4L788.4,1756.6H789.2L789.2,1757.5H790.0L790.0,1759.6H790.8L790.8,1762.3H791.6L791.6,1764.4H792.4L792.4,1763.7H793.2L793.2,1763.1H794.0L794.0,1766.4H794.8L794.8,1766.7H795.6L795.6,1765.8H796.4L796.4,1768.2H797.2L797.2,1766.5H798.0L798.0,1766.9H798.8L798.8,1766.1H799.6L799.6,1767.5H800.4L800.4,1767.8H801.2L801.2,1767.4H802.0L802.0,1767.1H802.8L802.8,1767.8H803.6L803.6,1767.2H804.4L804.4,1766.6H805.2L805.2,1766.3H806.0L806.0,1765.8H806.8L806.8,1768.3H807.6L807.6,1768.0H808.4L808.4,1770.0H809.2L809.2,1765.9H810.0L810.0,1768.4H810.8L810.8,1767.8H811.6L811.6,1767.3H812.4L812.4,1769.1H813.2L813.2,1767.4H814.0L814.0,1767.9H814.8L814.8,1769.6H815.6L815.6,1767.7H816.4L816.4,1766.9H817.2L817.2,1769.6H818.0L818.0,1767.2H818.8L818.8,1767.8H819.6L819.6,1767.5H820.4L820.4,1767.6H821.2L821.2,1766.8H822.0L822.0,1768.2H822.8L822.8,1767.2H823.6L823.6,1768.4H824.4L824.4,1767.4H825.2L825.2,1768.7H826.0L826.0,1768.1H826.8L826.8,1766.5H827.6L827.6,1767.6H828.4L828.4,1768.2H829.2L829.2,1769.0H830.0L830.0,1768.7H830.8L830.8,1767.8H831.6L831.6,1767.2H832.4L832.4,1767.6H833.2L833.2,1767.5H834.0L834.0,1768.0H834.8L834.8,1766.7H835.6L835.6,1768.2H836.4L836.4,1768.3H837.2L837.2,1766.8H838.0L838.0,1767.5H838.8L838.8,1767.7H839.6L839.6,1767.8H840.4L840.4,1767.3H841.2L841.2,1766.1H842.0L842.0,1766.1H842.8L842.8,1767.5H843.6L843.6,1765.3H844.4L844.4,1765.2H845.2L845.2,1766.3H846.0L846.0,1763.8H846.8L846.8,1764.8H847.6L847.6,1764.7H848.4L848.4,1763.0H849.2L849.2,1762.2H850.0L850.0,1764.8H850.8L850.8,1763.4H851.6L851.6,1765.3H852.4L852.4,1761.3H853.2L853.2,1765.2H854.0L854.0,1763.4H854.8L854.8,1766.1H855.6L855.6,1764.7H856.4L856.4,1763.4H857.2L857.2,1769.1H858.0L858.0,1767.1H858.8L858.8,1766.4H859.6L859.6,1767.2H860.4L860.4,1768.0H861.2L861.2,1765.4H862.0L862.0,1767.6H862.8L862.8,1769.3H863.6L863.6,1767.0H864.4L864.4,1769.5H865.2L865.2,1766.9H866.0L866.0,1768.5H866.8L866.8,1767.9H867.6L867.6,1766.9H868.4L868.4,1767.9H869.2L869.2,1769.3H870.0L870.0,1769.6H870.8L870.8,1767.0H871.6L871.6,1767.4H872.4L872.4,1768.8H873.2L873.2,1767.3H874.0L874.0,1767.6H874.8L874.8,1767.5H875.6L875.6,1770.1H876.4L876.4,1768.3H877.2L877.2,1767.2H878.0L878.0,1767.4H878.8L878.8,1767.3H879.6L879.6,1770.2H880.4L880.4,1767.9H881.2L881.2,1767.6H882.0L882.0,1765.8H882.8L882.8,1768.9H883.6L883.6,1768.3H884.4L884.4,1768.0H885.2L885.2,1767.3H886.0L886.0,1768.4H886.8L886.8,1767.0H887.6L887.6,1768.8H888.4L888.4,1767.8H889.2L889.2,1768.5H890.0L890.0,1767.9H890.8L890.8,1768.7H891.6L891.6,1769.5H892.4L892.4,1767.1H893.2L893.2,1767.8H894.0L894.0,1768.6H894.8L894.8,1767.9H895.6L895.6,1767.2H896.4L896.4,1768.9H897.2L897.2,1768.2H898.0L898.0,1767.6H898.8L898.8,1767.6H899.6L899.6,1768.4H900.4L900.4,1769.9H901.2L901.2,1766.9H902.0L902.0,1767.8H902.8L902.8,1768.0H903.6L903.6,1768.3H904.4L904.4,1767.8H905.2L905.2,1768.4H906.0L906.0,1769.0H906.8L906.8,1768.7H907.6L907.6,1768.6H908.4L908.4,1768.6H909.2L909.2,1769.1H910.0L910.0,1767.5H910.8L910.8,1769.2H911.6L911.6,1767.5H912.4L912.4,1769.0H913.2L913.2,1767.7H914.0L914.0,1766.8H914.8L914.8,1767.9H915.6L915.6,1768.7H916.4L916.4,1768.0H917.2L917.2,1767.9H918.0L918.0,1769.6H918.8L918.8,1768.6H919.6L919.6,1767.9H920.4L920.4,1768.5H921.2L921.2,1768.0H922.0L922.0,1767.4H922.8L922.8,1767.4H923.6L923.6,1767.3H924.4L924.4,1767.5H925.2L925.2,1768.3H926.0L926.0,1768.1H926.8L926.8,1768.3H927.6L927.6,1768.3H928.4L928.4,1768.2H929.2L929.2,1769.6H930.0L930.0,1768.4H930.8L930.8,1768.1H931.6L931.6,1768.9H932.4L932.4,1768.1H933.2L933.2,1767.6H934.0L934.0,1768.2H934.8L934.8,1766.2H935.6L935.6,1770.4H936.4L936.4,1768.3H937.2L937.2,1769.7H938.0L938.0,1767.2H938.8L938.8,1772.2Z" fill="#fe0000" stroke="none"/>
<line x1="133.1" y1="1771.4" x2="938.8" y2="1771.4" stroke="#fe0000" stroke-width="1.6"/>
<path d="M133.1,1784.4 V1218.1 H938.8 V1784.4" fill="none" stroke="#333" stroke-width="1.6"/>
<line x1="213.7" y1="1771.4" x2="213.7" y2="1784.4" stroke="#333" stroke-width="1.6"/>
<line x1="294.2" y1="1771.4" x2="294.2" y2="1784.4" stroke="#333" stroke-width="1.6"/>
<line x1="374.8" y1="1771.4" x2="374.8" y2="1784.4" stroke="#333" stroke-width="1.6"/>
<line x1="455.4" y1="1771.4" x2="455.4" y2="1784.4" stroke="#333" stroke-width="1.6"/>
<line x1="535.9" y1="1771.4" x2="535.9" y2="1784.4" stroke="#333" stroke-width="1.6"/>
<line x1="616.5" y1="1771.4" x2="616.5" y2="1784.4" stroke="#333" stroke-width="1.6"/>
<line x1="697.1" y1="1771.4" x2="697.1" y2="1784.4" stroke="#333" stroke-width="1.6"/>
<line x1="777.7" y1="1771.4" x2="777.7" y2="1784.4" stroke="#333" stroke-width="1.6"/>
<line x1="858.2" y1="1771.4" x2="858.2" y2="1784.4" stroke="#333" stroke-width="1.6"/>
<line x1="117.3" y1="1771.4" x2="133.1" y2="1771.4" stroke="#333" stroke-width="1.6"/>
<text transform="translate(98.75,1778.10) scale(1.0960,1.0000)" font-family='"Liberation Serif", serif' font-size="19.8" font-weight="normal" fill="#1a1a1a"  stroke="#1a1a1a" stroke-width="0.35">0</text>
<line x1="117.3" y1="1715.3" x2="133.1" y2="1715.3" stroke="#333" stroke-width="1.6"/>
<text transform="translate(77.05,1722.00) scale(1.0960,1.0000)" font-family='"Liberation Serif", serif' font-size="19.8" font-weight="normal" fill="#1a1a1a"  stroke="#1a1a1a" stroke-width="0.35">150</text>
<line x1="117.3" y1="1659.2" x2="133.1" y2="1659.2" stroke="#333" stroke-width="1.6"/>
<text transform="translate(77.05,1665.90) scale(1.0960,1.0000)" font-family='"Liberation Serif", serif' font-size="19.8" font-weight="normal" fill="#1a1a1a"  stroke="#1a1a1a" stroke-width="0.35">300</text>
<line x1="117.3" y1="1603.1" x2="133.1" y2="1603.1" stroke="#333" stroke-width="1.6"/>
<text transform="translate(77.05,1609.80) scale(1.0960,1.0000)" font-family='"Liberation Serif", serif' font-size="19.8" font-weight="normal" fill="#1a1a1a"  stroke="#1a1a1a" stroke-width="0.35">450</text>
<line x1="117.3" y1="1547.0" x2="133.1" y2="1547.0" stroke="#333" stroke-width="1.6"/>
<text transform="translate(77.05,1553.70) scale(1.0960,1.0000)" font-family='"Liberation Serif", serif' font-size="19.8" font-weight="normal" fill="#1a1a1a"  stroke="#1a1a1a" stroke-width="0.35">600</text>
<line x1="117.3" y1="1490.9" x2="133.1" y2="1490.9" stroke="#333" stroke-width="1.6"/>
<text transform="translate(77.05,1497.60) scale(1.0960,1.0000)" font-family='"Liberation Serif", serif' font-size="19.8" font-weight="normal" fill="#1a1a1a"  stroke="#1a1a1a" stroke-width="0.35">750</text>
<line x1="117.3" y1="1434.8" x2="133.1" y2="1434.8" stroke="#333" stroke-width="1.6"/>
<text transform="translate(77.05,1441.50) scale(1.0960,1.0000)" font-family='"Liberation Serif", serif' font-size="19.8" font-weight="normal" fill="#1a1a1a"  stroke="#1a1a1a" stroke-width="0.35">900</text>
<line x1="117.3" y1="1378.7" x2="133.1" y2="1378.7" stroke="#333" stroke-width="1.6"/>
<text transform="translate(66.20,1385.40) scale(1.0960,1.0000)" font-family='"Liberation Serif", serif' font-size="19.8" font-weight="normal" fill="#1a1a1a"  stroke="#1a1a1a" stroke-width="0.35">1050</text>
<line x1="117.3" y1="1322.6" x2="133.1" y2="1322.6" stroke="#333" stroke-width="1.6"/>
<text transform="translate(66.20,1329.30) scale(1.0960,1.0000)" font-family='"Liberation Serif", serif' font-size="19.8" font-weight="normal" fill="#1a1a1a"  stroke="#1a1a1a" stroke-width="0.35">1200</text>
<line x1="117.3" y1="1266.5" x2="133.1" y2="1266.5" stroke="#333" stroke-width="1.6"/>
<text transform="translate(66.20,1273.20) scale(1.0960,1.0000)" font-family='"Liberation Serif", serif' font-size="19.8" font-weight="normal" fill="#1a1a1a"  stroke="#1a1a1a" stroke-width="0.35">1350</text>
<text transform="translate(112.80,1809.50) scale(1.1486,1.0000)" font-family='"Liberation Serif", serif' font-size="19.8" font-weight="normal" fill="#1a1a1a"  stroke="#1a1a1a" stroke-width="0.35">0.00</text>
<text transform="translate(193.37,1809.50) scale(1.1486,1.0000)" font-family='"Liberation Serif", serif' font-size="19.8" font-weight="normal" fill="#1a1a1a"  stroke="#1a1a1a" stroke-width="0.35">1.00</text>
<text transform="translate(273.94,1809.50) scale(1.1486,1.0000)" font-family='"Liberation Serif", serif' font-size="19.8" font-weight="normal" fill="#1a1a1a"  stroke="#1a1a1a" stroke-width="0.35">2.00</text>
<text transform="translate(354.51,1809.50) scale(1.1486,1.0000)" font-family='"Liberation Serif", serif' font-size="19.8" font-weight="normal" fill="#1a1a1a"  stroke="#1a1a1a" stroke-width="0.35">3.00</text>
<text transform="translate(435.08,1809.50) scale(1.1486,1.0000)" font-family='"Liberation Serif", serif' font-size="19.8" font-weight="normal" fill="#1a1a1a"  stroke="#1a1a1a" stroke-width="0.35">4.00</text>
<text transform="translate(515.65,1809.50) scale(1.1486,1.0000)" font-family='"Liberation Serif", serif' font-size="19.8" font-weight="normal" fill="#1a1a1a"  stroke="#1a1a1a" stroke-width="0.35">5.00</text>
<text transform="translate(596.22,1809.50) scale(1.1486,1.0000)" font-family='"Liberation Serif", serif' font-size="19.8" font-weight="normal" fill="#1a1a1a"  stroke="#1a1a1a" stroke-width="0.35">6.00</text>
<text transform="translate(676.79,1809.50) scale(1.1486,1.0000)" font-family='"Liberation Serif", serif' font-size="19.8" font-weight="normal" fill="#1a1a1a"  stroke="#1a1a1a" stroke-width="0.35">7.00</text>
<text transform="translate(757.36,1809.50) scale(1.1486,1.0000)" font-family='"Liberation Serif", serif' font-size="19.8" font-weight="normal" fill="#1a1a1a"  stroke="#1a1a1a" stroke-width="0.35">8.00</text>
<text transform="translate(837.93,1809.50) scale(1.1486,1.0000)" font-family='"Liberation Serif", serif' font-size="19.8" font-weight="normal" fill="#1a1a1a"  stroke="#1a1a1a" stroke-width="0.35">9.00</text>
<text transform="translate(914.90,1809.50) scale(1.0550,1.0000)" font-family='"Liberation Serif", serif' font-size="19.8" font-weight="normal" fill="#1a1a1a"  stroke="#1a1a1a" stroke-width="0.35">10.00</text>
<text transform="translate(536.70,1852.30) scale(1.0553,1.0000)" font-family='"Liberation Serif", serif' font-size="21" font-weight="normal" fill="#1a1a1a"  stroke="#1a1a1a" stroke-width="0.35">keV</text>
<text transform="translate(22.00,1523.90) rotate(-90) scale(0.9961,1.2200)" font-family='"Liberation Serif", serif' font-size="21" font-weight="normal" fill="#1a1a1a" stroke="#1a1a1a" stroke-width="0.3">Counts</text>
<line x1="156.7" y1="1710.4" x2="156.7" y2="1742.6" stroke="#1414ff" stroke-width="1.7"/>
<text transform="translate(165.00,1696.80) rotate(-90) scale(1.0310,1.2200)" font-family='"Liberation Serif", serif' font-size="20.5" font-weight="normal" fill="#1414ff" stroke="#1414ff" stroke-width="0.3">AgMz</text>
<line x1="175.2" y1="1312.8" x2="175.2" y2="1346.6" stroke="#1414ff" stroke-width="1.7"/>
<text transform="translate(183.50,1300.00) rotate(-90) scale(1.0246,1.2200)" font-family='"Liberation Serif", serif' font-size="20.5" font-weight="normal" fill="#1414ff" stroke="#1414ff" stroke-width="0.3">OKa</text>
<line x1="198.1" y1="1709.2" x2="198.1" y2="1741.9" stroke="#1414ff" stroke-width="1.7"/>
<text transform="translate(206.40,1694.30) rotate(-90) scale(0.9709,1.2200)" font-family='"Liberation Serif", serif' font-size="20.5" font-weight="normal" fill="#1414ff" stroke="#1414ff" stroke-width="0.3">CuLl</text>
<line x1="207.5" y1="1626.7" x2="207.5" y2="1659.6" stroke="#1414ff" stroke-width="1.7"/>
<text transform="translate(215.80,1612.50) rotate(-90) scale(0.9910,1.2200)" font-family='"Liberation Serif", serif' font-size="20.5" font-weight="normal" fill="#1414ff" stroke="#1414ff" stroke-width="0.3">CuLa</text>
<line x1="215.7" y1="1554.3" x2="215.7" y2="1600.0" stroke="#1414ff" stroke-width="1.7"/>
<text transform="translate(224.00,1540.20) rotate(-90) scale(1.0028,1.2200)" font-family='"Liberation Serif", serif' font-size="20.5" font-weight="normal" fill="#1414ff" stroke="#1414ff" stroke-width="0.3">NaKa</text>
<line x1="252.6" y1="1675.7" x2="252.6" y2="1709.2" stroke="#1414ff" stroke-width="1.7"/>
<text transform="translate(260.90,1660.90) rotate(-90) scale(1.0229,1.2200)" font-family='"Liberation Serif", serif' font-size="20.5" font-weight="normal" fill="#1414ff" stroke="#1414ff" stroke-width="0.3">AlKa</text>
<line x1="273.2" y1="1478.7" x2="273.2" y2="1512.0" stroke="#1414ff" stroke-width="1.7"/>
<text transform="translate(281.50,1463.80) rotate(-90) scale(1.0146,1.2200)" font-family='"Liberation Serif", serif' font-size="20.5" font-weight="normal" fill="#1414ff" stroke="#1414ff" stroke-width="0.3">SiKa</text>
<line x1="373.6" y1="1718.4" x2="373.6" y2="1752.5" stroke="#1414ff" stroke-width="1.7"/>
<text transform="translate(381.90,1704.40) rotate(-90) scale(1.0013,1.2200)" font-family='"Liberation Serif", serif' font-size="20.5" font-weight="normal" fill="#1414ff" stroke="#1414ff" stroke-width="0.3">AgLa</text>
<line x1="385.9" y1="1719.8" x2="385.9" y2="1753.2" stroke="#1414ff" stroke-width="1.7"/>
<text transform="translate(394.20,1649.60) rotate(-90) scale(1.0278,1.2200)" font-family='"Liberation Serif", serif' font-size="20.5" font-weight="normal" fill="#1414ff" stroke="#1414ff" stroke-width="0.3">AgLb</text>
<line x1="402.4" y1="1681.6" x2="402.4" y2="1715.6" stroke="#1414ff" stroke-width="1.7"/>
<text transform="translate(410.70,1592.70) rotate(-90) scale(0.9928,1.2200)" font-family='"Liberation Serif", serif' font-size="20.5" font-weight="normal" fill="#1414ff" stroke="#1414ff" stroke-width="0.3">AgLb2</text>
<line x1="780.6" y1="1695.2" x2="780.6" y2="1727.3" stroke="#1414ff" stroke-width="1.7"/>
<text transform="translate(788.90,1679.80) rotate(-90) scale(1.0049,1.2200)" font-family='"Liberation Serif", serif' font-size="20.5" font-weight="normal" fill="#1414ff" stroke="#1414ff" stroke-width="0.3">CuKa</text>
<line x1="850.1" y1="1716.5" x2="850.1" y2="1749.6" stroke="#1414ff" stroke-width="1.7"/>
<text transform="translate(858.40,1702.50) rotate(-90) scale(1.0021,1.2200)" font-family='"Liberation Serif", serif' font-size="20.5" font-weight="normal" fill="#1414ff" stroke="#1414ff" stroke-width="0.3">CuKb</text>
<line x1="336.59999999999997" y1="1222.6" x2="749.1" y2="1222.6" stroke="#000" stroke-width="2.2"/>
<line x1="336.59999999999997" y1="1285.4" x2="749.1" y2="1285.4" stroke="#000" stroke-width="2.2"/>
<line x1="336.59999999999997" y1="1321.0" x2="749.1" y2="1321.0" stroke="#000" stroke-width="2.2"/>
<line x1="336.59999999999997" y1="1356.7" x2="749.1" y2="1356.7" stroke="#000" stroke-width="2.2"/>
<line x1="336.59999999999997" y1="1392.0" x2="749.1" y2="1392.0" stroke="#000" stroke-width="2.2"/>
<line x1="336.59999999999997" y1="1427.2" x2="749.1" y2="1427.2" stroke="#000" stroke-width="2.2"/>
<line x1="336.59999999999997" y1="1462.6" x2="749.1" y2="1462.6" stroke="#000" stroke-width="2.2"/>
<line x1="336.59999999999997" y1="1498.0" x2="749.1" y2="1498.0" stroke="#000" stroke-width="2.2"/>
<line x1="336.59999999999997" y1="1533.7" x2="749.1" y2="1533.7" stroke="#000" stroke-width="2.2"/>
<line x1="337.7" y1="1222.6" x2="337.7" y2="1533.7" stroke="#000" stroke-width="2.2"/>
<line x1="475.8" y1="1222.6" x2="475.8" y2="1533.7" stroke="#000" stroke-width="2.2"/>
<line x1="598.0" y1="1222.6" x2="598.0" y2="1533.7" stroke="#000" stroke-width="2.2"/>
<line x1="748.0" y1="1222.6" x2="748.0" y2="1533.7" stroke="#000" stroke-width="2.2"/>
<text transform="translate(285.00,1257.80) scale(1.0069,1.0000)" font-family='"Liberation Serif", serif' font-size="34" font-weight="bold" fill="#0a0a0a" >(c)</text>
<text transform="translate(351.40,1251.30) scale(1.0646,1.0000)" font-family='"Liberation Serif", serif' font-size="25.5" font-weight="bold" fill="#0a0a0a" >Elements</text>
<text transform="translate(490.10,1250.60) scale(1.0228,1.0000)" font-family='"Liberation Serif", serif' font-size="25.5" font-weight="bold" fill="#0a0a0a" >Mass %</text>
<text transform="translate(612.50,1250.60) scale(1.0371,1.0000)" font-family='"Liberation Serif", serif' font-size="25.5" font-weight="bold" fill="#0a0a0a" >Atomic %</text>
<text transform="translate(779.50,1267.00) scale(1.0433,1.0000)" font-family='"Liberation Serif", serif' font-size="29.5" font-weight="bold" fill="#0a0a0a" >0.10 CAZ</text>
<text transform="translate(374.60,1312.60) scale(1.0106,1.0000)" font-family='"Liberation Serif", serif' font-size="24.6" font-weight="normal" fill="#0a0a0a"  stroke="#0a0a0a" stroke-width="0.3">O</text>
<text transform="translate(421.90,1312.60) scale(1.0501,1.0000)" font-family='"Liberation Serif", serif' font-size="24.6" font-weight="normal" fill="#0a0a0a"  stroke="#0a0a0a" stroke-width="0.3">K</text>
<text transform="translate(372.80,1348.20) scale(1.0363,1.0000)" font-family='"Liberation Serif", serif' font-size="24.6" font-weight="normal" fill="#0a0a0a"  stroke="#0a0a0a" stroke-width="0.3">Na</text>
<text transform="translate(425.00,1348.20) scale(1.0501,1.0000)" font-family='"Liberation Serif", serif' font-size="24.6" font-weight="normal" fill="#0a0a0a"  stroke="#0a0a0a" stroke-width="0.3">K</text>
<text transform="translate(372.00,1383.40) scale(1.0366,1.0000)" font-family='"Liberation Serif", serif' font-size="24.6" font-weight="normal" fill="#0a0a0a"  stroke="#0a0a0a" stroke-width="0.3">Al</text>
<text transform="translate(426.50,1383.40) scale(1.0501,1.0000)" font-family='"Liberation Serif", serif' font-size="24.6" font-weight="normal" fill="#0a0a0a"  stroke="#0a0a0a" stroke-width="0.3">K</text>
<text transform="translate(369.70,1419.60) scale(0.9785,1.0000)" font-family='"Liberation Serif", serif' font-size="24.6" font-weight="normal" fill="#0a0a0a"  stroke="#0a0a0a" stroke-width="0.3">Si</text>
<text transform="translate(425.10,1419.60) scale(1.0840,1.0000)" font-family='"Liberation Serif", serif' font-size="24.6" font-weight="normal" fill="#0a0a0a"  stroke="#0a0a0a" stroke-width="0.3">K</text>
<text transform="translate(444.60,1410.00) scale(1.0114,1.0000)" font-family='"Liberation Serif", serif' font-size="17.5" font-weight="normal" fill="#0a0a0a" >+</text>
<text transform="translate(368.00,1455.00) scale(1.0817,1.0000)" font-family='"Liberation Serif", serif' font-size="24.6" font-weight="normal" fill="#0a0a0a"  stroke="#0a0a0a" stroke-width="0.3">Cu</text>
<text transform="translate(419.50,1455.00) scale(1.0840,1.0000)" font-family='"Liberation Serif", serif' font-size="24.6" font-weight="normal" fill="#0a0a0a"  stroke="#0a0a0a" stroke-width="0.3">K</text>
<text transform="translate(439.00,1445.40) scale(1.0114,1.0000)" font-family='"Liberation Serif", serif' font-size="17.5" font-weight="normal" fill="#0a0a0a" >+</text>
<text transform="translate(365.60,1490.20) scale(1.0529,1.0000)" font-family='"Liberation Serif", serif' font-size="24.6" font-weight="normal" fill="#0a0a0a"  stroke="#0a0a0a" stroke-width="0.3">Ag</text>
<text transform="translate(425.10,1490.20) scale(0.9463,1.0000)" font-family='"Liberation Serif", serif' font-size="24.6" font-weight="normal" fill="#0a0a0a"  stroke="#0a0a0a" stroke-width="0.3">L</text>
<text transform="translate(441.20,1480.60) scale(1.0417,1.0000)" font-family='"Liberation Serif", serif' font-size="17.5" font-weight="normal" fill="#0a0a0a" >+</text>
<text transform="translate(367.80,1525.90) scale(1.0282,1.0000)" font-family='"Liberation Serif", serif' font-size="24.6" font-weight="normal" fill="#0a0a0a"  stroke="#0a0a0a" stroke-width="0.3">Total</text>
<text transform="translate(509.50,1312.60) scale(1.0226,1.0000)" font-family='"Liberation Serif", serif' font-size="24.6" font-weight="normal" fill="#0a0a0a"  stroke="#0a0a0a" stroke-width="0.3">37.23</text>
<text transform="translate(646.70,1312.60) scale(1.0226,1.0000)" font-family='"Liberation Serif", serif' font-size="24.6" font-weight="normal" fill="#0a0a0a"  stroke="#0a0a0a" stroke-width="0.3">56.12</text>
<text transform="translate(509.50,1348.20) scale(1.0226,1.0000)" font-family='"Liberation Serif", serif' font-size="24.6" font-weight="normal" fill="#0a0a0a"  stroke="#0a0a0a" stroke-width="0.3">17.93</text>
<text transform="translate(646.70,1348.20) scale(1.0226,1.0000)" font-family='"Liberation Serif", serif' font-size="24.6" font-weight="normal" fill="#0a0a0a"  stroke="#0a0a0a" stroke-width="0.3">18.81</text>
<text transform="translate(515.50,1383.40) scale(1.0360,1.0000)" font-family='"Liberation Serif", serif' font-size="24.6" font-weight="normal" fill="#0a0a0a"  stroke="#0a0a0a" stroke-width="0.3">2.07</text>
<text transform="translate(652.70,1383.40) scale(1.0360,1.0000)" font-family='"Liberation Serif", serif' font-size="24.6" font-weight="normal" fill="#0a0a0a"  stroke="#0a0a0a" stroke-width="0.3">1.85</text>
<text transform="translate(509.50,1419.60) scale(1.0226,1.0000)" font-family='"Liberation Serif", serif' font-size="24.6" font-weight="normal" fill="#0a0a0a"  stroke="#0a0a0a" stroke-width="0.3">14.65</text>
<text transform="translate(646.70,1419.60) scale(1.0226,1.0000)" font-family='"Liberation Serif", serif' font-size="24.6" font-weight="normal" fill="#0a0a0a"  stroke="#0a0a0a" stroke-width="0.3">12.58</text>
<text transform="translate(509.50,1455.00) scale(1.0226,1.0000)" font-family='"Liberation Serif", serif' font-size="24.6" font-weight="normal" fill="#0a0a0a"  stroke="#0a0a0a" stroke-width="0.3">27.94</text>
<text transform="translate(646.70,1455.00) scale(1.0226,1.0000)" font-family='"Liberation Serif", serif' font-size="24.6" font-weight="normal" fill="#0a0a0a"  stroke="#0a0a0a" stroke-width="0.3">10.60</text>
<text transform="translate(515.50,1490.20) scale(1.0360,1.0000)" font-family='"Liberation Serif", serif' font-size="24.6" font-weight="normal" fill="#0a0a0a"  stroke="#0a0a0a" stroke-width="0.3">0.18</text>
<text transform="translate(652.70,1490.20) scale(1.0360,1.0000)" font-family='"Liberation Serif", serif' font-size="24.6" font-weight="normal" fill="#0a0a0a"  stroke="#0a0a0a" stroke-width="0.3">0.04</text>
<text transform="translate(502.40,1525.90) scale(1.0466,1.0000)" font-family='"Liberation Serif", serif' font-size="24.6" font-weight="normal" fill="#0a0a0a"  stroke="#0a0a0a" stroke-width="0.3">100.00</text>
<text transform="translate(639.60,1525.90) scale(1.0466,1.0000)" font-family='"Liberation Serif", serif' font-size="24.6" font-weight="normal" fill="#0a0a0a"  stroke="#0a0a0a" stroke-width="0.3">100.00</text>
</svg>
</body></html>
